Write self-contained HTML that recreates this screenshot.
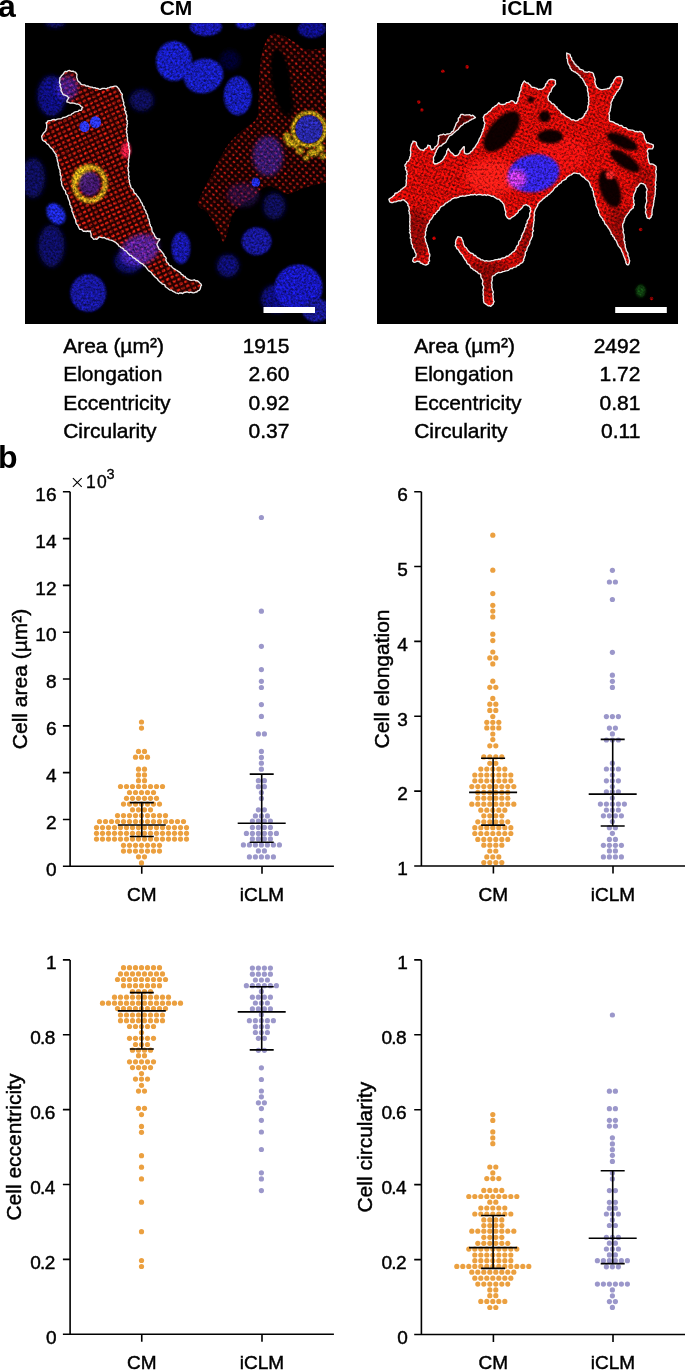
<!DOCTYPE html>
<html><head><meta charset="utf-8"><style>
html,body{margin:0;padding:0;background:#fff;width:685px;height:1370px;overflow:hidden}
svg{position:absolute;left:0;top:0}
.gt{will-change:transform}
text{font-family:"Liberation Sans",sans-serif}
</style></head><body>
<svg class="gt" width="685" height="1370" viewBox="0 0 685 1370">
<defs>
<filter id="grain" x="0" y="0" width="100%" height="100%" color-interpolation-filters="sRGB">
<feTurbulence type="fractalNoise" baseFrequency="0.45" numOctaves="2" seed="7" result="n"/>
<feColorMatrix in="n" type="matrix" values="1 0 0 0 0  1 0 0 0 0  1 0 0 0 0  0 0 0 0 1" result="g"/>
<feComposite in="SourceGraphic" in2="g" operator="arithmetic" k1="1.6" k2="0.2" k3="0" k4="0"/>
</filter>
<filter id="b05" x="-10%" y="-10%" width="120%" height="120%"><feGaussianBlur stdDeviation="0.5"/></filter>
<filter id="b1" x="-20%" y="-20%" width="140%" height="140%"><feGaussianBlur stdDeviation="0.9"/></filter>
<filter id="b2" x="-30%" y="-30%" width="160%" height="160%"><feGaussianBlur stdDeviation="2"/></filter>
<filter id="b3" x="-50%" y="-50%" width="200%" height="200%"><feGaussianBlur stdDeviation="4"/></filter>
<pattern id="redtex1" width="5.2" height="4.8" patternUnits="userSpaceOnUse" patternTransform="rotate(-25)">
<rect width="5.2" height="4.8" fill="#2a0404"/><ellipse cx="2.6" cy="2.4" rx="1.9" ry="1.3" fill="#cc1e0e"/></pattern>
<pattern id="redtex1b" width="5.2" height="4.8" patternUnits="userSpaceOnUse" patternTransform="rotate(40)">
<rect width="5.2" height="4.8" fill="#140202"/><ellipse cx="2.6" cy="2.4" rx="1.5" ry="1.0" fill="#b81a10"/></pattern>
<pattern id="redtex2" width="4.2" height="4.2" patternUnits="userSpaceOnUse" patternTransform="rotate(20)">
<rect width="4.2" height="4.2" fill="#d80c08"/><ellipse cx="2.1" cy="2.1" rx="1.3" ry="0.9" fill="#7a0604"/></pattern>
</defs>
<clipPath id="c1"><rect x="25" y="23" width="301" height="301"/></clipPath>
<clipPath id="c2"><rect x="377" y="23" width="301" height="301"/></clipPath>
<g clip-path="url(#c1)"><g filter="url(#grain)"><rect x="25" y="23" width="301" height="301" fill="#000"/><ellipse cx="51.5" cy="95.8" rx="14.0" ry="20.0" fill="#10107a" filter="url(#b2)"/><ellipse cx="141.8" cy="100.2" rx="12.0" ry="11.0" fill="#0a0a55" filter="url(#b2)"/><ellipse cx="33.0" cy="178.0" rx="12.0" ry="20.0" fill="#0a0a58" filter="url(#b2)"/><ellipse cx="51.5" cy="246.0" rx="13.0" ry="21.0" fill="#0c0c60" filter="url(#b2)"/><ellipse cx="128.6" cy="261.2" rx="14.0" ry="12.0" fill="#0c0c66" filter="url(#b2)"/><ellipse cx="227.9" cy="265.6" rx="11.0" ry="11.0" fill="#0e0e70" filter="url(#b2)"/><ellipse cx="274.2" cy="206.0" rx="11.0" ry="13.0" fill="#0a0a55" filter="url(#b2)"/><ellipse cx="276.4" cy="298.7" rx="15.0" ry="14.0" fill="#10107a" filter="url(#b2)"/><ellipse cx="55.0" cy="23.0" rx="10.0" ry="5.0" fill="#0a0a55" filter="url(#b2)"/><ellipse cx="230.0" cy="60.0" rx="10.0" ry="10.0" fill="#06062e" filter="url(#b2)"/><path d="M268.1,37.2 C271.3,32.8 275.1,33.6 279.5,34.4 C283.9,35.2 290.3,39.4 294.7,42.0 C299.1,44.5 300.9,48.6 306.1,49.6 C311.3,50.5 321.6,48.0 326.0,47.7 C330.4,47.4 331.5,25.2 332.6,47.7 C333.8,70.1 333.8,160.0 332.6,182.4 C331.5,204.9 329.8,181.8 326.0,182.4 C322.2,183.1 314.5,185.0 309.9,186.2 C305.3,187.5 302.3,188.7 298.5,190.0 C294.7,191.3 292.2,194.4 287.1,193.8 C282.0,193.2 273.8,185.6 268.1,186.2 C262.4,186.9 258.6,193.2 252.9,197.6 C247.2,202.0 238.7,205.5 234.0,212.8 C229.2,220.1 227.0,238.1 224.5,241.3 C221.9,244.4 221.6,236.5 218.8,231.8 C215.9,227.0 210.9,217.2 207.4,212.8 C203.9,208.4 198.8,208.4 197.9,205.2 C196.9,202.0 198.8,200.1 201.7,193.8 C204.5,187.5 210.6,175.5 215.0,167.2 C219.4,159.0 223.5,150.8 228.3,144.5 C233.0,138.1 238.7,133.7 243.4,129.3 C248.2,124.9 254.2,123.0 256.7,117.9 C259.3,112.8 258.0,108.4 258.6,98.9 C259.3,89.4 258.9,71.2 260.5,61.0 C262.1,50.7 265.0,41.7 268.1,37.2 Z" fill="url(#redtex1b)" filter="url(#b05)"/><ellipse cx="281.0" cy="80.0" rx="9.5" ry="31.0" fill="#020000" transform="rotate(-8 281.0 80.0)" filter="url(#b1)"/><ellipse cx="287.0" cy="105.0" rx="7.0" ry="12.0" fill="#030000" filter="url(#b2)"/><ellipse cx="268.0" cy="156.0" rx="15.0" ry="20.0" fill="rgba(70,40,190,0.55)" filter="url(#b2)"/><ellipse cx="243.0" cy="195.0" rx="16.0" ry="12.0" fill="rgba(70,30,150,0.35)" filter="url(#b2)"/><ellipse cx="291.0" cy="143.0" rx="5.0" ry="3.5" fill="rgba(232,205,30,0.75)" filter="url(#b1)"/><ellipse cx="300.0" cy="151.0" rx="4.0" ry="3.0" fill="rgba(232,205,30,0.75)" filter="url(#b1)"/><ellipse cx="313.0" cy="153.0" rx="6.0" ry="3.5" fill="rgba(232,205,30,0.75)" filter="url(#b1)"/><ellipse cx="320.0" cy="148.0" rx="4.0" ry="4.0" fill="rgba(232,205,30,0.75)" filter="url(#b1)"/><ellipse cx="287.0" cy="137.0" rx="3.5" ry="4.5" fill="rgba(232,205,30,0.75)" filter="url(#b1)"/><ellipse cx="306.0" cy="158.0" rx="3.0" ry="2.5" fill="rgba(232,205,30,0.75)" filter="url(#b1)"/><ellipse cx="296.0" cy="146.0" rx="2.5" ry="2.5" fill="rgba(232,205,30,0.75)" filter="url(#b1)"/><ellipse cx="323.0" cy="156.0" rx="3.0" ry="3.0" fill="rgba(232,205,30,0.75)" filter="url(#b1)"/><ellipse cx="309.0" cy="129.3" rx="16.0" ry="16.5" fill="none" stroke="rgba(235,210,30,0.8)" stroke-width="3.5" filter="url(#b1)"/><ellipse cx="309.0" cy="129.3" rx="13.5" ry="14.0" fill="#2626a0" filter="url(#b05)"/><ellipse cx="255.8" cy="182.4" rx="4.0" ry="4.2" fill="#2030f0" filter="url(#b05)"/><ellipse cx="174.0" cy="61.0" rx="18.0" ry="20.0" fill="#191fb8" filter="url(#b1)"/><ellipse cx="205.9" cy="27.0" rx="16.0" ry="9.0" fill="#1519a8" filter="url(#b1)"/><ellipse cx="203.7" cy="76.0" rx="20.0" ry="17.0" fill="#171cb5" transform="rotate(-20 203.7 76.0)" filter="url(#b1)"/><ellipse cx="237.8" cy="95.8" rx="14.0" ry="19.5" fill="#171cb2" filter="url(#b1)"/><ellipse cx="245.5" cy="24.0" rx="10.0" ry="5.0" fill="#1519a8" filter="url(#b1)"/><ellipse cx="311.7" cy="29.0" rx="14.0" ry="9.0" fill="#0f0f81" filter="url(#b1)"/><ellipse cx="55.9" cy="213.8" rx="8.5" ry="11.5" fill="#1a28d0" transform="rotate(-35 55.9 213.8)" filter="url(#b1)"/><ellipse cx="88.2" cy="293.0" rx="18.0" ry="19.0" fill="#121297" filter="url(#b1)"/><ellipse cx="181.0" cy="248.0" rx="9.5" ry="16.0" fill="#1517a1" filter="url(#b1)"/><ellipse cx="256.6" cy="241.3" rx="15.0" ry="14.0" fill="#121293" filter="url(#b1)"/><ellipse cx="298.5" cy="287.6" rx="24.0" ry="23.0" fill="#1519b5" filter="url(#b1)"/><ellipse cx="316.0" cy="310.0" rx="14.0" ry="12.0" fill="#12128d" filter="url(#b1)"/><ellipse cx="255.5" cy="181.8" rx="3.5" ry="3.5" fill="#1a28d0" filter="url(#b1)"/><path d="M60.2,77.9 C61.3,75.7 64.2,72.3 66.7,71.3 C69.3,70.4 73.7,70.8 75.5,72.2 C77.4,73.7 76.6,78.1 77.7,80.1 C78.8,82.2 79.9,83.4 82.1,84.5 C84.3,85.6 87.6,86.0 90.9,86.7 C94.2,87.4 98.2,88.9 101.9,88.9 C105.6,88.9 110.3,87.1 112.9,86.7 C115.4,86.4 115.8,85.6 117.3,86.7 C118.7,87.8 120.6,90.4 121.7,93.3 C122.8,96.2 123.0,99.9 123.9,104.3 C124.7,108.7 126.4,114.2 126.9,119.7 C127.5,125.2 126.5,132.1 126.9,137.3 C127.4,142.4 129.4,145.3 129.6,150.4 C129.8,155.6 128.1,162.2 128.3,168.0 C128.4,173.9 128.6,180.3 130.5,185.6 C132.4,190.8 137.0,195.0 139.6,199.5 C142.3,204.0 144.4,208.3 146.2,212.7 C148.1,217.1 149.2,221.9 150.7,225.9 C152.1,230.0 153.6,234.8 155.1,237.0 C156.5,239.2 159.1,237.7 159.5,239.2 C159.8,240.6 156.5,243.2 157.3,245.8 C158.0,248.4 162.0,251.6 163.9,254.6 C165.7,257.5 166.2,260.8 168.3,263.4 C170.3,265.9 172.9,267.4 176.2,270.0 C179.5,272.5 184.6,276.9 188.0,278.7 C191.5,280.6 194.6,279.8 196.8,280.9 C199.0,282.0 201.4,283.5 201.4,285.3 C201.4,287.2 199.1,290.8 196.8,291.9 C194.5,293.1 191.1,292.3 187.6,292.4 C184.1,292.5 180.0,294.1 175.7,292.6 C171.4,291.0 165.5,286.2 161.7,283.1 C157.9,280.1 155.8,277.3 152.9,274.4 C149.9,271.4 147.0,268.1 144.1,265.6 C141.2,263.0 138.6,261.5 135.3,259.0 C132.0,256.4 128.0,253.1 124.3,250.2 C120.6,247.3 117.2,243.6 113.3,241.4 C109.4,239.2 104.0,237.4 101.0,237.0 C98.1,236.6 97.2,239.2 95.5,239.2 C93.9,239.2 92.0,238.3 91.1,237.0 C90.2,235.7 91.1,232.2 90.0,231.3 C88.9,230.3 86.6,232.2 84.5,231.3 C82.5,230.4 80.1,230.0 77.9,226.0 C75.7,222.1 73.0,212.8 71.1,207.6 C69.3,202.3 68.2,198.0 66.7,194.4 C65.3,190.7 63.6,190.0 62.4,185.6 C61.1,181.2 60.4,173.1 59.3,168.0 C58.2,162.9 57.4,158.5 55.8,154.8 C54.1,151.2 51.4,148.6 49.2,146.0 C47.0,143.5 43.8,141.3 42.6,139.4 C41.3,137.6 41.1,136.5 41.7,135.1 C42.3,133.6 45.2,132.9 46.1,130.7 C47.0,128.5 45.4,123.7 47.0,121.9 C48.6,120.0 52.8,120.4 55.8,119.7 C58.7,118.9 61.6,118.6 64.5,117.5 C67.5,116.4 70.4,114.5 73.3,113.1 C76.3,111.6 81.4,110.2 82.1,108.7 C82.9,107.2 80.3,105.4 77.7,104.3 C75.2,103.2 68.2,103.2 66.7,102.1 C65.3,101.0 69.7,99.2 68.9,97.7 C68.2,96.2 63.8,95.5 62.4,93.3 C60.9,91.1 60.5,87.1 60.2,84.5 C59.8,82.0 59.1,80.1 60.2,77.9 Z" fill="url(#redtex1)" filter="url(#b05)"/><ellipse cx="67.0" cy="88.0" rx="11.0" ry="12.0" fill="rgba(70,40,200,0.6)" filter="url(#b2)"/><ellipse cx="89.7" cy="183.7" rx="15.5" ry="17.0" fill="none" stroke="rgba(228,195,30,0.8)" stroke-width="5" filter="url(#b1)"/><ellipse cx="84.0" cy="177.0" rx="9.0" ry="9.0" fill="rgba(235,205,25,0.75)" filter="url(#b2)"/><ellipse cx="89.7" cy="183.7" rx="10.5" ry="12.0" fill="rgba(60,20,110,0.95)" filter="url(#b1)"/><ellipse cx="139.6" cy="250.2" rx="20.0" ry="15.0" fill="rgba(90,40,200,0.7)" transform="rotate(-25 139.6 250.2)" filter="url(#b2)"/><ellipse cx="126.0" cy="150.0" rx="5.0" ry="8.0" fill="rgba(255,30,80,0.8)" filter="url(#b1)"/><ellipse cx="95.5" cy="122.2" rx="5.5" ry="6.0" fill="#2a34f0" filter="url(#b05)"/><ellipse cx="84.5" cy="126.6" rx="5.0" ry="5.5" fill="#2a34f0" filter="url(#b05)"/></g><path d="M59.9,77.8 L60.8,76.9 L61.4,75.7 L62.5,74.8 L63.5,73.7 L64.2,72.3 L65.4,71.4 L66.9,71.7 L68.1,70.7 L69.7,70.5 L71.4,71.4 L73.0,71.1 L74.3,71.9 L75.6,72.2 L76.1,73.2 L77.0,74.4 L76.8,76.0 L76.7,77.5 L77.3,78.9 L77.5,80.2 L78.4,81.6 L79.9,82.3 L80.5,83.9 L82.1,84.6 L83.4,84.8 L84.8,84.9 L86.0,86.1 L87.7,86.0 L89.2,86.6 L90.8,87.1 L92.1,87.2 L93.4,87.8 L94.9,87.6 L96.2,88.4 L97.7,88.4 L99.0,89.1 L100.5,89.3 L101.9,88.5 L103.3,88.4 L104.7,88.3 L106.4,88.8 L107.8,87.9 L109.3,87.7 L110.5,87.0 L111.8,86.9 L112.9,86.6 L114.8,86.1 L116.0,86.2 L117.2,86.8 L117.7,87.7 L118.7,88.4 L119.2,89.6 L120.0,90.7 L120.6,92.1 L121.5,93.4 L122.4,94.3 L122.0,95.7 L122.1,97.0 L122.4,98.3 L123.0,99.7 L123.1,101.2 L123.9,102.6 L123.5,104.4 L124.0,105.4 L124.6,106.5 L125.1,107.7 L124.6,109.1 L124.7,110.4 L126.0,111.5 L125.5,113.0 L126.2,114.2 L126.8,115.5 L126.8,116.9 L126.5,118.3 L126.5,119.7 L127.5,120.9 L127.0,122.3 L127.6,123.7 L126.8,125.1 L127.2,126.5 L126.6,127.9 L126.4,129.3 L126.9,130.7 L126.3,132.1 L127.0,133.5 L127.3,134.8 L126.8,136.0 L127.5,137.2 L127.5,138.7 L127.5,140.1 L127.6,141.4 L128.4,142.5 L128.8,143.7 L128.3,145.2 L129.2,146.2 L128.8,147.7 L129.0,149.0 L129.7,150.4 L129.6,151.6 L129.5,152.9 L129.3,154.2 L129.2,155.5 L129.1,156.9 L128.9,158.2 L128.4,159.6 L128.7,161.0 L128.6,162.5 L128.2,163.8 L128.6,165.3 L128.5,166.7 L127.7,168.0 L128.3,169.4 L128.3,170.8 L128.9,172.1 L128.5,173.5 L128.4,174.9 L129.2,176.3 L128.7,177.7 L128.8,179.1 L129.6,180.4 L129.3,181.8 L129.7,183.1 L129.9,184.4 L130.6,185.5 L130.8,187.0 L131.4,188.2 L132.8,189.1 L133.5,190.2 L133.8,191.8 L134.4,193.1 L135.9,193.8 L136.6,195.0 L137.3,196.2 L138.3,197.1 L139.1,198.3 L139.8,199.4 L140.5,200.6 L140.9,202.0 L141.9,203.0 L142.4,204.3 L142.7,205.7 L144.0,206.5 L144.0,208.0 L144.4,209.2 L145.4,210.2 L146.0,211.4 L145.9,212.8 L147.0,213.9 L147.6,215.3 L147.8,216.7 L148.0,218.2 L149.0,219.3 L149.2,220.7 L149.6,222.1 L149.5,223.5 L150.3,224.7 L150.3,226.1 L151.5,227.2 L151.8,228.6 L152.0,230.1 L152.2,231.6 L153.2,232.8 L153.9,233.9 L154.5,235.0 L154.6,236.1 L155.3,236.7 L156.6,238.5 L158.4,238.8 L159.8,239.0 L159.5,240.2 L158.3,241.2 L157.7,242.7 L156.9,244.2 L157.4,245.8 L158.0,246.6 L158.5,247.7 L158.9,249.1 L160.3,249.9 L161.3,251.1 L162.2,252.3 L163.1,253.4 L163.9,254.5 L164.2,256.1 L165.5,257.0 L166.2,258.3 L165.8,259.9 L166.4,261.2 L167.0,262.5 L168.3,263.3 L168.8,264.7 L169.8,265.7 L171.4,266.0 L172.1,267.3 L173.3,268.3 L174.7,269.1 L176.1,270.0 L177.2,270.5 L178.2,271.4 L179.4,272.1 L180.6,272.9 L181.4,274.3 L182.8,274.9 L183.6,276.2 L185.2,276.4 L185.8,277.9 L186.9,278.4 L187.8,279.2 L189.6,279.9 L191.2,280.3 L192.9,280.2 L194.4,279.8 L195.6,280.8 L197.0,280.6 L198.6,281.6 L199.8,283.0 L201.0,284.0 L201.5,285.3 L200.8,286.2 L200.6,287.5 L200.1,289.0 L199.2,290.3 L197.7,290.9 L196.8,292.0 L195.7,292.0 L194.6,292.7 L193.3,292.9 L192.0,292.5 L190.6,292.1 L189.1,292.7 L187.6,292.0 L186.3,292.0 L185.1,292.3 L183.9,292.5 L182.7,293.5 L181.3,293.0 L179.9,292.8 L178.5,293.7 L177.1,293.2 L175.6,292.8 L174.7,292.1 L173.6,291.7 L172.5,291.1 L171.5,290.1 L169.9,290.1 L168.8,289.2 L167.7,288.3 L166.5,287.5 L165.4,286.7 L164.9,285.1 L163.8,284.3 L162.3,284.2 L161.7,283.1 L160.3,282.3 L159.2,281.3 L158.2,280.3 L157.5,279.1 L156.6,278.2 L155.5,277.4 L154.5,276.5 L153.7,275.5 L152.6,274.6 L151.9,273.3 L151.1,272.2 L149.8,271.4 L148.6,270.6 L147.7,269.6 L146.9,268.4 L146.1,267.3 L145.3,266.2 L144.0,265.7 L143.2,264.4 L142.0,263.7 L140.8,263.1 L139.7,262.4 L138.7,261.5 L137.8,260.5 L136.4,260.0 L135.4,258.8 L134.3,258.2 L133.1,257.6 L132.2,256.5 L131.2,255.4 L129.6,255.1 L128.8,253.9 L127.6,253.0 L126.8,251.7 L125.7,250.7 L124.2,250.3 L123.5,248.9 L122.3,248.1 L120.9,247.6 L120.0,246.5 L118.6,245.8 L118.0,244.3 L116.8,243.6 L115.9,242.5 L114.7,241.8 L113.4,241.2 L112.2,240.5 L110.9,240.1 L109.3,239.9 L108.2,238.9 L106.6,239.0 L105.4,238.4 L104.3,237.4 L103.0,237.9 L101.9,237.6 L101.0,237.4 L99.0,236.8 L98.0,238.3 L96.9,239.3 L95.5,238.8 L93.7,239.3 L92.5,237.8 L91.3,236.9 L91.1,235.6 L91.1,234.0 L90.6,232.4 L90.3,231.0 L89.0,231.5 L87.6,231.0 L86.1,231.5 L84.6,231.1 L83.3,231.3 L82.5,230.2 L81.6,229.4 L79.8,229.3 L78.9,227.8 L78.0,226.0 L77.8,225.0 L76.7,224.3 L76.2,223.2 L75.8,222.0 L75.7,220.6 L75.4,219.2 L74.5,218.0 L74.0,216.6 L73.6,215.2 L73.1,213.9 L72.7,212.5 L71.9,211.3 L71.9,209.9 L72.0,208.5 L71.0,207.6 L70.9,205.9 L69.8,204.6 L69.8,203.0 L69.5,201.6 L69.0,200.3 L68.4,199.1 L68.0,197.8 L67.7,196.6 L67.6,195.3 L66.4,194.5 L65.7,193.2 L65.7,191.7 L65.2,190.5 L64.2,189.7 L63.5,188.6 L63.1,187.2 L62.0,185.7 L61.8,184.6 L61.5,183.4 L61.7,182.0 L61.1,180.7 L60.8,179.3 L61.1,177.8 L61.1,176.3 L60.2,174.9 L60.4,173.3 L59.9,172.0 L60.1,170.5 L59.6,169.2 L59.0,168.1 L58.7,166.6 L58.1,165.1 L58.3,163.6 L57.9,162.2 L57.4,161.0 L57.3,159.6 L56.9,158.4 L57.0,157.0 L55.9,156.1 L56.2,154.6 L55.1,153.5 L54.4,152.2 L53.5,151.1 L52.9,149.8 L52.0,148.7 L50.9,147.9 L50.0,147.0 L49.3,145.9 L48.5,144.7 L47.0,144.0 L46.2,142.8 L45.3,141.6 L44.0,141.1 L43.0,140.5 L42.3,139.6 L41.9,137.7 L41.6,136.4 L42.2,135.3 L42.8,134.3 L43.6,132.9 L44.9,131.8 L45.9,130.5 L46.0,129.3 L46.6,127.8 L46.7,126.1 L46.7,124.5 L46.1,122.9 L47.3,122.1 L47.9,120.9 L49.3,120.6 L50.9,120.6 L52.5,119.7 L54.1,119.5 L55.8,120.0 L57.2,119.1 L58.7,118.9 L60.2,118.8 L61.7,118.6 L62.9,117.5 L64.5,117.3 L65.8,116.9 L67.1,116.4 L68.2,115.5 L69.6,115.2 L71.1,114.8 L72.0,113.6 L73.4,113.1 L74.5,112.1 L76.1,111.6 L77.9,111.4 L79.1,110.2 L80.8,110.3 L81.8,109.7 L81.7,108.6 L82.6,107.4 L81.1,106.5 L79.8,105.0 L77.8,104.0 L76.5,104.1 L75.2,103.5 L73.5,103.2 L71.9,102.9 L70.2,103.2 L68.8,102.5 L67.7,102.0 L66.9,102.0 L66.9,100.8 L68.0,99.0 L68.9,97.7 L68.2,97.2 L67.3,96.2 L66.0,95.6 L64.6,95.0 L63.1,94.6 L62.5,93.2 L61.8,92.0 L60.9,90.7 L61.3,89.0 L60.7,87.4 L59.9,86.0 L60.6,84.4 L59.5,83.1 L59.5,81.7 L59.8,80.5 L59.8,79.2 Z" fill="none" stroke="#eeeeee" stroke-width="1.35" stroke-linejoin="round"/><rect x="263.5" y="307" width="51.5" height="6" fill="#fff"/></g>
<g clip-path="url(#c2)"><g filter="url(#grain)"><rect x="377" y="23" width="301" height="301" fill="#000"/><clipPath id="cc2"><path d="M388.7,199.2 C388.7,198.4 389.9,198.4 391.3,197.2 C392.8,196.1 395.4,193.7 397.4,192.2 C399.5,190.6 402.1,189.4 403.6,188.0 C405.1,186.7 406.2,185.5 406.6,184.0 C407.0,182.4 406.0,180.7 406.1,178.8 C406.2,176.9 407.2,174.6 407.1,172.7 C407.1,170.8 405.9,169.1 405.6,167.6 C405.4,166.1 404.9,165.2 405.6,163.6 C406.3,162.1 408.8,160.8 409.7,158.3 C410.5,155.9 410.1,151.9 410.7,149.1 C411.3,146.3 412.4,142.8 413.3,141.6 C414.1,140.5 415.1,141.2 415.8,142.1 C416.6,143.0 416.8,145.8 417.9,147.2 C418.9,148.5 420.8,149.9 422.0,150.3 C423.1,150.6 424.0,150.0 425.0,149.2 C426.1,148.4 427.3,146.1 428.1,145.6 C429.0,145.1 429.6,145.3 430.1,146.0 C430.6,146.8 430.5,149.9 431.1,150.3 C431.8,150.6 433.0,149.6 434.2,148.2 C435.4,146.9 437.4,144.3 438.3,142.1 C439.2,139.9 437.8,136.4 439.4,135.1 C441.0,133.7 445.8,135.1 448.2,134.2 C450.6,133.2 451.9,132.3 453.9,129.3 C455.9,126.3 458.4,118.6 459.9,116.2 C461.4,113.7 460.4,114.6 462.8,114.6 C465.3,114.6 472.8,115.4 474.5,116.2 C476.2,116.9 474.7,117.8 473.0,119.0 C471.3,120.2 466.6,121.7 464.2,123.4 C461.7,125.1 460.6,127.3 458.4,129.2 C456.2,131.1 453.5,132.6 451.1,135.1 C448.7,137.5 446.0,141.6 443.8,143.8 C441.6,146.0 439.7,145.8 438.0,148.2 C436.3,150.7 434.1,155.7 433.6,158.3 C433.1,161.0 433.8,163.6 435.0,164.1 C436.2,164.5 439.2,162.7 440.9,161.3 C442.6,159.9 444.1,157.7 445.3,155.5 C446.5,153.3 447.2,148.7 448.2,148.2 C449.2,147.8 449.6,151.4 451.1,152.6 C452.5,153.8 455.2,156.0 456.9,155.5 C458.6,155.0 460.1,151.0 461.3,149.6 C462.5,148.1 463.6,146.0 464.2,146.7 C464.8,147.4 464.1,153.0 465.0,153.9 C466.0,154.9 467.9,154.3 470.0,152.6 C472.0,150.9 475.4,147.0 477.4,143.8 C479.4,140.7 480.6,136.8 481.8,133.6 C483.0,130.4 484.4,127.7 484.7,124.8 C485.1,121.9 483.0,118.5 483.9,116.2 C484.8,113.8 487.5,112.9 490.0,110.7 C492.5,108.5 496.8,103.9 498.8,103.0 C500.8,102.1 499.8,105.5 502.0,105.2 C504.2,104.8 509.5,101.1 511.9,100.8 C514.3,100.4 514.5,105.9 516.3,103.0 C518.1,100.0 521.2,86.7 522.8,83.2 C524.4,79.7 524.3,81.5 526.1,82.2 C527.9,82.9 531.0,86.5 533.8,87.6 C536.5,88.7 540.0,90.0 542.6,88.8 C545.1,87.5 546.9,81.1 549.1,80.0 C551.3,78.9 555.9,79.3 555.7,82.2 C555.5,85.1 548.0,93.6 548.0,97.6 C548.0,101.6 552.9,103.4 555.7,106.3 C558.4,109.2 561.1,112.7 564.4,115.1 C567.7,117.5 572.1,120.6 575.4,120.6 C578.7,120.6 582.0,117.8 584.2,115.1 C586.4,112.4 588.0,108.5 588.6,104.1 C589.1,99.7 588.9,93.5 587.5,88.8 C586.0,84.1 582.5,79.0 579.8,75.7 C577.0,72.5 573.2,72.4 571.0,69.1 C568.8,65.8 567.0,58.5 566.6,56.0 C566.2,53.4 567.3,52.3 568.8,53.8 C570.3,55.2 572.8,61.8 575.4,64.7 C578.0,67.7 581.3,69.9 584.2,71.3 C587.1,72.8 590.7,70.8 592.9,73.5 C595.1,76.2 594.7,85.1 597.3,87.6 C599.8,90.1 605.3,90.2 608.2,88.8 C611.1,87.3 613.0,81.0 614.8,79.0 C616.6,77.0 617.9,76.8 619.2,76.8 C620.5,76.8 622.5,76.9 622.5,78.9 C622.5,80.9 621.0,84.9 619.2,88.8 C617.4,92.6 613.2,96.8 611.5,101.9 C609.9,107.0 608.8,115.9 609.3,119.4 C609.9,122.9 612.1,121.3 614.8,122.7 C617.6,124.2 622.7,126.8 625.8,128.2 C628.9,129.6 630.8,130.2 633.6,131.0 C636.3,131.8 640.3,131.1 642.3,132.9 C644.4,134.6 644.0,139.5 645.8,141.5 C647.6,143.5 651.9,143.8 652.9,145.0 C653.9,146.1 652.9,147.6 652.0,148.5 C651.1,149.4 648.0,148.0 647.6,150.3 C647.2,152.7 648.0,160.0 649.3,162.6 C650.6,165.2 654.5,163.2 655.5,166.1 C656.5,169.0 655.7,174.9 655.5,180.1 C655.4,185.4 655.0,193.0 654.6,197.6 C654.2,202.3 653.5,204.9 652.9,208.1 C652.3,211.3 652.0,215.3 651.1,216.9 C650.2,218.5 648.5,218.9 647.6,217.7 C646.7,216.5 645.9,214.7 645.8,209.9 C645.6,205.1 647.3,193.2 646.7,188.8 C646.1,184.5 643.9,183.9 642.3,183.6 C640.7,183.3 638.6,184.8 637.1,187.1 C635.6,189.5 634.2,194.4 633.6,197.6 C633.0,200.8 634.7,203.5 633.6,206.4 C632.4,209.3 628.3,211.9 626.6,215.1 C624.8,218.3 623.4,220.9 623.1,225.6 C622.8,230.3 623.8,237.3 624.8,243.2 C625.8,249.0 628.9,257.2 629.2,260.7 C629.5,264.2 627.9,266.0 626.6,264.2 C625.3,262.5 623.9,255.5 621.3,250.2 C618.7,244.9 614.6,239.0 610.8,232.6 C607.0,226.2 601.7,219.2 598.5,211.6 C595.3,204.0 594.1,193.0 591.5,187.1 C588.9,181.3 585.7,179.0 582.8,176.6 C579.9,174.3 577.8,171.9 574.0,173.1 C570.2,174.3 564.6,179.7 560.0,183.6 C555.3,187.5 549.9,192.9 546.2,196.6 C542.4,200.2 539.3,202.7 537.4,205.4 C535.4,208.1 535.4,207.9 534.5,212.8 C533.7,217.7 533.8,228.2 532.3,234.8 C530.9,241.4 527.6,247.5 525.7,252.2 C523.9,257.0 524.3,260.3 521.4,263.2 C518.5,266.1 513.0,267.6 508.3,269.8 C503.5,272.0 495.5,272.4 492.9,276.4 C490.4,280.4 492.7,289.5 492.9,293.9 C493.1,298.2 494.4,300.6 494.0,302.6 C493.7,304.6 492.4,305.9 490.7,305.9 C489.1,305.9 485.5,306.1 484.2,302.6 C482.9,299.1 483.8,289.9 483.1,285.1 C482.3,280.4 481.8,277.1 479.8,274.2 C477.8,271.3 474.3,271.2 471.0,267.6 C467.7,263.9 462.6,255.9 460.1,252.2 C457.5,248.6 456.2,248.1 455.7,245.7 C455.2,243.3 455.9,239.3 456.8,238.1 C457.7,236.8 459.9,236.8 461.1,238.1 C462.4,239.3 462.4,243.0 464.4,245.7 C466.5,248.4 469.5,251.9 473.2,254.4 C476.8,257.0 481.2,260.5 486.3,261.0 C491.4,261.6 499.1,259.6 503.9,257.7 C508.6,255.9 511.9,253.6 514.8,250.1 C517.7,246.6 519.0,242.4 521.4,237.0 C523.8,231.5 527.6,222.2 529.0,217.2 C530.5,212.3 530.9,209.4 530.1,207.4 C529.4,205.4 526.8,204.3 524.6,205.2 C522.5,206.1 519.4,210.6 517.0,212.8 C514.6,215.0 512.2,217.8 510.4,218.3 C508.6,218.9 507.0,217.8 506.1,216.1 C505.2,214.5 505.9,211.0 505.0,208.5 C504.0,205.9 503.3,203.0 500.6,200.8 C497.8,198.6 494.2,196.3 488.5,195.3 C482.9,194.4 473.2,194.4 466.6,195.3 C460.1,196.3 454.2,197.9 449.1,200.8 C444.0,203.7 439.4,209.0 436.0,212.8 C432.5,216.7 430.0,220.9 428.3,223.8 C426.7,226.7 426.7,228.2 426.1,230.4 C425.6,232.6 424.8,234.5 425.0,237.0 C425.2,239.5 426.5,242.8 427.2,245.7 C428.0,248.6 429.2,251.5 429.4,254.4 C429.6,257.4 429.4,261.5 428.3,263.2 C427.2,264.8 424.5,264.7 422.8,264.3 C421.2,264.0 419.9,261.4 418.5,261.0 C417.0,260.7 415.0,262.5 414.1,262.1 C413.2,261.8 412.6,259.9 413.0,258.8 C413.4,257.7 416.3,257.4 416.3,255.5 C416.3,253.7 413.9,250.6 413.0,247.9 C412.1,245.2 411.3,242.4 410.8,239.1 C410.2,235.8 409.9,232.2 409.7,228.2 C409.5,224.2 410.0,219.2 409.7,215.0 C409.4,210.9 408.7,205.8 407.7,203.4 C406.7,200.9 405.3,200.7 403.6,200.3 C401.9,200.0 399.5,201.0 397.4,201.3 C395.4,201.6 392.8,202.6 391.3,202.3 C389.9,201.9 388.7,200.1 388.7,199.2 Z"/></clipPath><path d="M388.7,199.2 C388.7,198.4 389.9,198.4 391.3,197.2 C392.8,196.1 395.4,193.7 397.4,192.2 C399.5,190.6 402.1,189.4 403.6,188.0 C405.1,186.7 406.2,185.5 406.6,184.0 C407.0,182.4 406.0,180.7 406.1,178.8 C406.2,176.9 407.2,174.6 407.1,172.7 C407.1,170.8 405.9,169.1 405.6,167.6 C405.4,166.1 404.9,165.2 405.6,163.6 C406.3,162.1 408.8,160.8 409.7,158.3 C410.5,155.9 410.1,151.9 410.7,149.1 C411.3,146.3 412.4,142.8 413.3,141.6 C414.1,140.5 415.1,141.2 415.8,142.1 C416.6,143.0 416.8,145.8 417.9,147.2 C418.9,148.5 420.8,149.9 422.0,150.3 C423.1,150.6 424.0,150.0 425.0,149.2 C426.1,148.4 427.3,146.1 428.1,145.6 C429.0,145.1 429.6,145.3 430.1,146.0 C430.6,146.8 430.5,149.9 431.1,150.3 C431.8,150.6 433.0,149.6 434.2,148.2 C435.4,146.9 437.4,144.3 438.3,142.1 C439.2,139.9 437.8,136.4 439.4,135.1 C441.0,133.7 445.8,135.1 448.2,134.2 C450.6,133.2 451.9,132.3 453.9,129.3 C455.9,126.3 458.4,118.6 459.9,116.2 C461.4,113.7 460.4,114.6 462.8,114.6 C465.3,114.6 472.8,115.4 474.5,116.2 C476.2,116.9 474.7,117.8 473.0,119.0 C471.3,120.2 466.6,121.7 464.2,123.4 C461.7,125.1 460.6,127.3 458.4,129.2 C456.2,131.1 453.5,132.6 451.1,135.1 C448.7,137.5 446.0,141.6 443.8,143.8 C441.6,146.0 439.7,145.8 438.0,148.2 C436.3,150.7 434.1,155.7 433.6,158.3 C433.1,161.0 433.8,163.6 435.0,164.1 C436.2,164.5 439.2,162.7 440.9,161.3 C442.6,159.9 444.1,157.7 445.3,155.5 C446.5,153.3 447.2,148.7 448.2,148.2 C449.2,147.8 449.6,151.4 451.1,152.6 C452.5,153.8 455.2,156.0 456.9,155.5 C458.6,155.0 460.1,151.0 461.3,149.6 C462.5,148.1 463.6,146.0 464.2,146.7 C464.8,147.4 464.1,153.0 465.0,153.9 C466.0,154.9 467.9,154.3 470.0,152.6 C472.0,150.9 475.4,147.0 477.4,143.8 C479.4,140.7 480.6,136.8 481.8,133.6 C483.0,130.4 484.4,127.7 484.7,124.8 C485.1,121.9 483.0,118.5 483.9,116.2 C484.8,113.8 487.5,112.9 490.0,110.7 C492.5,108.5 496.8,103.9 498.8,103.0 C500.8,102.1 499.8,105.5 502.0,105.2 C504.2,104.8 509.5,101.1 511.9,100.8 C514.3,100.4 514.5,105.9 516.3,103.0 C518.1,100.0 521.2,86.7 522.8,83.2 C524.4,79.7 524.3,81.5 526.1,82.2 C527.9,82.9 531.0,86.5 533.8,87.6 C536.5,88.7 540.0,90.0 542.6,88.8 C545.1,87.5 546.9,81.1 549.1,80.0 C551.3,78.9 555.9,79.3 555.7,82.2 C555.5,85.1 548.0,93.6 548.0,97.6 C548.0,101.6 552.9,103.4 555.7,106.3 C558.4,109.2 561.1,112.7 564.4,115.1 C567.7,117.5 572.1,120.6 575.4,120.6 C578.7,120.6 582.0,117.8 584.2,115.1 C586.4,112.4 588.0,108.5 588.6,104.1 C589.1,99.7 588.9,93.5 587.5,88.8 C586.0,84.1 582.5,79.0 579.8,75.7 C577.0,72.5 573.2,72.4 571.0,69.1 C568.8,65.8 567.0,58.5 566.6,56.0 C566.2,53.4 567.3,52.3 568.8,53.8 C570.3,55.2 572.8,61.8 575.4,64.7 C578.0,67.7 581.3,69.9 584.2,71.3 C587.1,72.8 590.7,70.8 592.9,73.5 C595.1,76.2 594.7,85.1 597.3,87.6 C599.8,90.1 605.3,90.2 608.2,88.8 C611.1,87.3 613.0,81.0 614.8,79.0 C616.6,77.0 617.9,76.8 619.2,76.8 C620.5,76.8 622.5,76.9 622.5,78.9 C622.5,80.9 621.0,84.9 619.2,88.8 C617.4,92.6 613.2,96.8 611.5,101.9 C609.9,107.0 608.8,115.9 609.3,119.4 C609.9,122.9 612.1,121.3 614.8,122.7 C617.6,124.2 622.7,126.8 625.8,128.2 C628.9,129.6 630.8,130.2 633.6,131.0 C636.3,131.8 640.3,131.1 642.3,132.9 C644.4,134.6 644.0,139.5 645.8,141.5 C647.6,143.5 651.9,143.8 652.9,145.0 C653.9,146.1 652.9,147.6 652.0,148.5 C651.1,149.4 648.0,148.0 647.6,150.3 C647.2,152.7 648.0,160.0 649.3,162.6 C650.6,165.2 654.5,163.2 655.5,166.1 C656.5,169.0 655.7,174.9 655.5,180.1 C655.4,185.4 655.0,193.0 654.6,197.6 C654.2,202.3 653.5,204.9 652.9,208.1 C652.3,211.3 652.0,215.3 651.1,216.9 C650.2,218.5 648.5,218.9 647.6,217.7 C646.7,216.5 645.9,214.7 645.8,209.9 C645.6,205.1 647.3,193.2 646.7,188.8 C646.1,184.5 643.9,183.9 642.3,183.6 C640.7,183.3 638.6,184.8 637.1,187.1 C635.6,189.5 634.2,194.4 633.6,197.6 C633.0,200.8 634.7,203.5 633.6,206.4 C632.4,209.3 628.3,211.9 626.6,215.1 C624.8,218.3 623.4,220.9 623.1,225.6 C622.8,230.3 623.8,237.3 624.8,243.2 C625.8,249.0 628.9,257.2 629.2,260.7 C629.5,264.2 627.9,266.0 626.6,264.2 C625.3,262.5 623.9,255.5 621.3,250.2 C618.7,244.9 614.6,239.0 610.8,232.6 C607.0,226.2 601.7,219.2 598.5,211.6 C595.3,204.0 594.1,193.0 591.5,187.1 C588.9,181.3 585.7,179.0 582.8,176.6 C579.9,174.3 577.8,171.9 574.0,173.1 C570.2,174.3 564.6,179.7 560.0,183.6 C555.3,187.5 549.9,192.9 546.2,196.6 C542.4,200.2 539.3,202.7 537.4,205.4 C535.4,208.1 535.4,207.9 534.5,212.8 C533.7,217.7 533.8,228.2 532.3,234.8 C530.9,241.4 527.6,247.5 525.7,252.2 C523.9,257.0 524.3,260.3 521.4,263.2 C518.5,266.1 513.0,267.6 508.3,269.8 C503.5,272.0 495.5,272.4 492.9,276.4 C490.4,280.4 492.7,289.5 492.9,293.9 C493.1,298.2 494.4,300.6 494.0,302.6 C493.7,304.6 492.4,305.9 490.7,305.9 C489.1,305.9 485.5,306.1 484.2,302.6 C482.9,299.1 483.8,289.9 483.1,285.1 C482.3,280.4 481.8,277.1 479.8,274.2 C477.8,271.3 474.3,271.2 471.0,267.6 C467.7,263.9 462.6,255.9 460.1,252.2 C457.5,248.6 456.2,248.1 455.7,245.7 C455.2,243.3 455.9,239.3 456.8,238.1 C457.7,236.8 459.9,236.8 461.1,238.1 C462.4,239.3 462.4,243.0 464.4,245.7 C466.5,248.4 469.5,251.9 473.2,254.4 C476.8,257.0 481.2,260.5 486.3,261.0 C491.4,261.6 499.1,259.6 503.9,257.7 C508.6,255.9 511.9,253.6 514.8,250.1 C517.7,246.6 519.0,242.4 521.4,237.0 C523.8,231.5 527.6,222.2 529.0,217.2 C530.5,212.3 530.9,209.4 530.1,207.4 C529.4,205.4 526.8,204.3 524.6,205.2 C522.5,206.1 519.4,210.6 517.0,212.8 C514.6,215.0 512.2,217.8 510.4,218.3 C508.6,218.9 507.0,217.8 506.1,216.1 C505.2,214.5 505.9,211.0 505.0,208.5 C504.0,205.9 503.3,203.0 500.6,200.8 C497.8,198.6 494.2,196.3 488.5,195.3 C482.9,194.4 473.2,194.4 466.6,195.3 C460.1,196.3 454.2,197.9 449.1,200.8 C444.0,203.7 439.4,209.0 436.0,212.8 C432.5,216.7 430.0,220.9 428.3,223.8 C426.7,226.7 426.7,228.2 426.1,230.4 C425.6,232.6 424.8,234.5 425.0,237.0 C425.2,239.5 426.5,242.8 427.2,245.7 C428.0,248.6 429.2,251.5 429.4,254.4 C429.6,257.4 429.4,261.5 428.3,263.2 C427.2,264.8 424.5,264.7 422.8,264.3 C421.2,264.0 419.9,261.4 418.5,261.0 C417.0,260.7 415.0,262.5 414.1,262.1 C413.2,261.8 412.6,259.9 413.0,258.8 C413.4,257.7 416.3,257.4 416.3,255.5 C416.3,253.7 413.9,250.6 413.0,247.9 C412.1,245.2 411.3,242.4 410.8,239.1 C410.2,235.8 409.9,232.2 409.7,228.2 C409.5,224.2 410.0,219.2 409.7,215.0 C409.4,210.9 408.7,205.8 407.7,203.4 C406.7,200.9 405.3,200.7 403.6,200.3 C401.9,200.0 399.5,201.0 397.4,201.3 C395.4,201.6 392.8,202.6 391.3,202.3 C389.9,201.9 388.7,200.1 388.7,199.2 Z" fill="url(#redtex2)"/><g clip-path="url(#cc2)"><path d="M439.4,135.1 C441.0,133.1 445.8,135.1 448.2,134.2 C450.6,133.2 451.9,132.3 453.9,129.3 C455.9,126.3 458.4,118.6 459.9,116.2 C461.4,113.7 460.4,114.6 462.8,114.6 C465.3,114.6 472.8,115.4 474.5,116.2 C476.2,116.9 474.7,117.8 473.0,119.0 C471.3,120.2 466.6,121.7 464.2,123.4 C461.7,125.1 460.6,127.3 458.4,129.2 C456.2,131.1 453.5,132.6 451.1,135.1 C448.7,137.5 445.9,142.0 443.8,143.8 C441.7,145.7 439.3,147.5 438.5,146.0 C437.8,144.6 437.8,137.0 439.4,135.1 Z" fill="rgba(40,0,0,0.75)" filter="url(#b1)"/><ellipse cx="486.9" cy="277.9" rx="26.4" ry="17.6" fill="rgba(0,0,0,0.35)" filter="url(#b3)"/><ellipse cx="623.1" cy="229.5" rx="13.2" ry="26.4" fill="rgba(0,0,0,0.3)" transform="rotate(-20 623.1 229.5)" filter="url(#b3)"/><ellipse cx="526.4" cy="242.7" rx="11.0" ry="22.0" fill="rgba(0,0,0,0.3)" filter="url(#b3)"/><ellipse cx="416.5" cy="233.9" rx="13.2" ry="26.4" fill="rgba(0,0,0,0.3)" filter="url(#b3)"/><ellipse cx="645.0" cy="190.0" rx="8.8" ry="26.4" fill="rgba(0,0,0,0.25)" filter="url(#b3)"/><ellipse cx="574.7" cy="71.3" rx="13.2" ry="17.6" fill="rgba(0,0,0,0.3)" filter="url(#b3)"/><ellipse cx="492.1" cy="176.8" rx="26.4" ry="17.6" fill="rgba(255,30,25,0.85)" filter="url(#b3)"/><ellipse cx="561.6" cy="154.8" rx="26.4" ry="17.6" fill="rgba(255,25,20,0.5)" filter="url(#b3)"/><ellipse cx="501.8" cy="131.5" rx="24.6" ry="11.9" fill="#070000" transform="rotate(-50 501.8 131.5)" filter="url(#b1)"/><ellipse cx="550.3" cy="136.6" rx="12.7" ry="7.0" fill="#070000" filter="url(#b1)"/><ellipse cx="544.7" cy="116.5" rx="5.7" ry="5.7" fill="#070000" filter="url(#b1)"/><ellipse cx="531.0" cy="99.6" rx="3.1" ry="3.1" fill="#070000" filter="url(#b1)"/><ellipse cx="622.2" cy="141.5" rx="16.7" ry="6.2" fill="#070000" transform="rotate(25 622.2 141.5)" filter="url(#b1)"/><ellipse cx="624.8" cy="160.8" rx="17.6" ry="6.6" fill="#070000" transform="rotate(35 624.8 160.8)" filter="url(#b1)"/><ellipse cx="609.9" cy="188.8" rx="9.7" ry="19.3" fill="#070000" transform="rotate(-20 609.9 188.8)" filter="url(#b1)"/><ellipse cx="610.0" cy="174.8" rx="4.4" ry="4.4" fill="rgba(255,40,40,0.95)" filter="url(#b1)"/></g><ellipse cx="533.7" cy="173.3" rx="25.9" ry="18.9" fill="#3020d8" transform="rotate(-10 533.7 173.3)" filter="url(#b1)"/><ellipse cx="516.7" cy="179.0" rx="9.7" ry="9.7" fill="rgba(230,60,220,0.75)" filter="url(#b2)"/><ellipse cx="640.7" cy="291.0" rx="4.8" ry="6.2" fill="rgba(30,150,30,0.45)" filter="url(#b1)"/><ellipse cx="467.1" cy="66.9" rx="1.8" ry="1.8" fill="#a00000"/><ellipse cx="421.8" cy="110.0" rx="1.8" ry="1.8" fill="#a00000"/><ellipse cx="458.3" cy="179.0" rx="1.8" ry="1.8" fill="#a00000"/><ellipse cx="464.9" cy="194.4" rx="1.8" ry="1.8" fill="#a00000"/><ellipse cx="418.7" cy="102.1" rx="1.8" ry="1.8" fill="#a00000"/><ellipse cx="556.3" cy="113.1" rx="1.8" ry="1.8" fill="#a00000"/><ellipse cx="442.9" cy="71.3" rx="1.8" ry="1.8" fill="#a00000"/><ellipse cx="434.1" cy="238.3" rx="1.8" ry="1.8" fill="#a00000"/><ellipse cx="640.7" cy="229.5" rx="1.8" ry="1.8" fill="#a00000"/><ellipse cx="651.6" cy="298.5" rx="1.8" ry="1.8" fill="#a00000"/></g><path d="M388.9,199.2 L389.6,198.6 L391.5,197.5 L392.5,196.9 L393.3,195.9 L394.5,195.2 L394.9,193.5 L396.3,193.0 L397.7,192.6 L398.8,191.4 L400.3,190.8 L401.1,189.3 L402.5,188.8 L403.4,187.8 L405.0,186.8 L406.1,185.4 L406.1,183.8 L406.4,182.4 L406.1,180.7 L406.6,178.8 L406.6,177.4 L406.3,175.7 L407.4,174.2 L406.7,172.7 L407.0,171.3 L406.1,170.2 L405.4,168.9 L406.0,167.5 L405.0,166.3 L404.9,165.0 L406.1,163.8 L406.5,163.0 L406.9,161.6 L408.5,161.1 L409.0,159.7 L409.9,158.4 L409.7,157.2 L410.6,156.0 L410.5,154.6 L410.8,153.2 L410.8,151.8 L410.3,150.3 L410.6,149.1 L410.7,147.6 L411.1,146.1 L411.4,144.6 L412.1,143.4 L412.9,142.5 L412.9,141.2 L414.5,141.3 L416.0,142.0 L416.5,143.0 L416.4,144.6 L417.2,145.9 L418.0,147.1 L419.1,148.5 L420.5,149.8 L422.0,149.8 L423.7,150.6 L424.7,148.8 L426.3,148.2 L427.5,146.8 L427.8,145.1 L429.2,145.6 L430.3,146.0 L430.4,147.4 L431.2,149.0 L431.3,149.8 L432.3,149.6 L434.6,148.6 L434.8,147.1 L436.1,146.3 L437.2,145.1 L438.1,143.7 L438.1,142.0 L438.4,140.6 L438.6,139.0 L438.9,137.5 L438.3,135.9 L439.6,135.3 L440.5,134.9 L441.9,134.8 L443.5,134.0 L445.2,135.0 L446.8,134.0 L448.1,134.0 L449.6,133.7 L450.9,133.3 L451.6,131.9 L453.2,131.2 L453.9,129.4 L454.3,128.3 L454.8,127.2 L455.3,125.9 L455.8,124.5 L456.4,123.1 L457.6,121.9 L458.5,120.7 L458.2,119.0 L458.6,117.8 L460.0,117.2 L460.0,116.2 L461.0,114.4 L462.8,114.3 L463.8,114.8 L465.1,115.1 L466.6,114.8 L468.1,114.9 L469.8,114.7 L471.2,115.9 L472.7,115.2 L473.7,115.9 L474.2,116.4 L475.4,117.6 L472.9,118.8 L471.9,119.1 L470.9,120.0 L469.5,120.4 L468.3,121.7 L466.7,122.1 L465.5,123.0 L464.0,123.1 L463.2,124.5 L462.1,125.3 L460.8,125.9 L460.0,127.0 L459.0,127.9 L458.4,129.2 L457.4,130.0 L456.3,130.6 L455.4,131.6 L454.4,132.5 L453.3,133.3 L452.4,134.4 L451.2,135.1 L449.8,135.7 L448.8,136.8 L448.2,138.2 L447.3,139.5 L446.6,140.8 L445.9,142.2 L444.8,143.1 L443.6,143.6 L442.3,144.6 L441.4,145.8 L440.0,146.0 L438.8,146.8 L437.8,148.1 L437.2,149.2 L436.4,150.3 L436.1,151.9 L435.1,153.1 L435.0,154.7 L434.3,156.0 L433.6,157.2 L433.4,158.3 L433.7,160.3 L433.2,162.1 L434.1,163.4 L435.0,164.1 L435.8,163.6 L437.1,163.8 L438.3,162.8 L439.8,162.3 L440.9,161.3 L442.1,160.6 L443.0,159.4 L444.0,158.2 L444.4,156.7 L445.4,155.6 L446.1,154.3 L446.7,152.9 L446.7,151.2 L447.6,150.0 L448.1,149.0 L448.2,148.4 L448.4,148.9 L449.0,150.0 L450.1,151.4 L451.1,152.7 L452.6,153.4 L453.7,155.0 L455.3,155.9 L456.9,155.5 L458.0,155.0 L459.0,153.7 L459.9,152.3 L460.2,150.5 L461.5,149.7 L462.5,148.1 L463.5,146.9 L464.2,146.6 L464.3,147.7 L464.2,149.3 L464.3,151.2 L464.4,152.9 L465.4,153.6 L466.3,154.0 L468.0,153.9 L470.1,152.8 L470.6,151.7 L471.9,151.1 L472.8,150.0 L473.3,148.5 L474.7,147.6 L475.5,146.1 L476.2,144.8 L477.1,143.6 L477.9,142.5 L478.4,141.2 L479.0,139.9 L479.4,138.5 L480.4,137.4 L480.8,136.0 L481.5,134.9 L481.9,133.6 L482.1,132.2 L483.3,131.1 L482.8,129.5 L483.7,128.5 L484.0,127.2 L484.4,126.0 L484.3,124.8 L485.1,123.3 L484.3,121.8 L483.6,120.4 L483.9,118.8 L483.2,117.4 L484.0,116.2 L484.4,115.0 L485.4,114.3 L486.7,113.8 L487.7,112.9 L488.7,111.6 L490.2,111.0 L491.0,110.0 L491.8,108.8 L492.7,107.6 L494.1,107.0 L495.2,105.9 L496.5,105.3 L497.5,104.5 L498.1,103.5 L498.8,102.8 L500.1,104.2 L502.2,104.7 L502.8,104.5 L504.2,104.4 L505.5,103.8 L506.7,102.6 L508.4,102.4 L509.8,102.0 L510.8,100.9 L511.9,100.7 L513.9,101.6 L515.0,103.4 L516.6,103.4 L516.5,102.3 L517.5,101.6 L517.9,100.5 L518.0,99.2 L518.0,97.7 L519.2,96.5 L519.2,94.8 L519.5,93.3 L519.9,91.7 L521.0,90.4 L520.9,88.7 L521.1,87.3 L521.7,86.1 L521.7,84.8 L522.6,84.0 L522.7,83.2 L524.3,80.9 L525.9,82.5 L526.8,83.0 L528.3,83.0 L529.0,84.3 L530.3,85.0 L531.1,86.6 L532.4,87.3 L533.9,87.3 L535.3,87.9 L536.8,88.3 L538.1,89.6 L539.8,89.1 L541.2,89.3 L542.6,88.8 L543.6,88.2 L544.5,87.1 L545.4,85.9 L545.6,84.1 L547.0,83.1 L547.4,81.5 L548.3,80.7 L549.0,79.8 L550.6,79.3 L552.4,79.5 L554.1,79.8 L555.4,80.6 L555.4,82.2 L555.4,82.9 L555.6,84.1 L554.8,85.1 L553.9,86.2 L552.7,87.2 L551.9,88.6 L551.3,90.2 L551.0,91.8 L549.4,92.8 L549.1,94.3 L548.4,95.5 L547.9,96.6 L547.9,97.6 L548.3,99.0 L548.5,100.5 L549.8,101.3 L550.9,102.3 L551.8,103.6 L553.5,104.0 L554.7,105.1 L555.4,106.6 L556.9,107.0 L557.2,108.6 L558.3,109.5 L559.4,110.3 L560.5,111.3 L561.1,112.6 L562.0,113.7 L563.6,114.0 L564.4,115.1 L565.5,116.0 L566.7,116.7 L568.1,117.4 L569.5,118.0 L570.5,119.1 L571.7,120.0 L573.2,119.7 L574.3,120.2 L575.4,120.9 L576.9,120.7 L578.3,120.1 L579.3,118.8 L581.0,118.6 L582.4,117.8 L583.6,116.6 L584.4,115.2 L584.5,113.9 L585.9,113.3 L585.9,111.9 L586.9,110.9 L587.7,109.8 L587.9,108.4 L587.7,106.9 L588.1,105.5 L589.0,104.2 L588.3,102.8 L588.9,101.6 L588.8,100.2 L588.5,98.8 L589.0,97.3 L588.2,95.9 L588.2,94.4 L588.3,92.9 L587.7,91.6 L587.4,90.2 L587.6,88.8 L587.3,87.4 L586.9,86.0 L585.5,85.1 L585.2,83.6 L584.3,82.4 L583.8,81.0 L582.9,79.9 L582.5,78.5 L581.2,77.8 L580.2,77.0 L580.0,75.6 L578.5,74.9 L577.7,73.7 L576.4,73.1 L575.4,72.0 L574.1,71.8 L573.0,71.0 L571.7,70.4 L571.1,69.1 L570.1,68.2 L570.0,66.6 L569.2,65.3 L568.2,63.9 L567.8,62.4 L567.5,60.8 L567.6,59.2 L566.7,58.1 L567.0,56.8 L566.8,56.0 L566.7,53.0 L568.7,53.9 L569.7,54.2 L570.3,55.2 L570.5,56.7 L571.6,57.8 L571.7,59.6 L572.9,60.9 L573.9,62.2 L574.3,63.8 L575.8,64.4 L576.2,66.0 L577.8,66.4 L578.8,67.4 L579.4,69.0 L580.7,69.5 L582.1,69.8 L583.3,70.4 L584.0,71.8 L585.7,72.0 L587.2,72.3 L588.8,71.6 L590.3,72.2 L591.8,72.4 L593.1,73.3 L593.6,74.3 L593.7,75.6 L594.4,76.8 L594.7,78.3 L595.2,79.8 L594.7,81.5 L595.2,83.0 L595.4,84.5 L596.2,85.6 L596.3,87.0 L597.3,87.6 L598.3,88.5 L599.6,89.1 L601.0,89.7 L602.6,89.6 L604.1,89.3 L605.6,89.1 L606.9,88.9 L608.0,88.3 L609.4,88.5 L610.0,87.2 L611.1,86.2 L611.1,84.5 L612.2,83.4 L613.3,82.3 L613.7,80.9 L614.1,79.8 L614.8,79.0 L616.2,77.2 L617.8,76.6 L619.2,76.4 L620.7,76.7 L622.0,77.4 L622.1,79.0 L622.8,79.8 L622.5,80.8 L622.2,82.0 L621.9,83.3 L621.3,84.6 L620.8,86.0 L619.9,87.3 L619.7,89.0 L618.3,89.6 L618.1,91.0 L616.9,91.7 L616.3,93.0 L615.5,94.2 L614.9,95.5 L613.7,96.4 L613.7,98.1 L612.5,99.1 L612.2,100.6 L611.3,101.9 L610.9,103.1 L611.2,104.6 L610.8,106.0 L610.7,107.5 L610.2,109.0 L610.2,110.6 L609.6,112.0 L608.8,113.5 L609.4,114.9 L609.4,116.3 L609.2,117.5 L609.5,118.5 L609.1,119.5 L609.8,121.3 L611.4,121.5 L612.9,121.8 L614.7,122.9 L615.6,123.7 L616.9,124.0 L618.2,124.4 L619.3,125.6 L621.1,125.4 L622.4,126.1 L623.3,127.4 L624.7,127.6 L626.0,127.7 L627.3,128.9 L628.4,129.9 L629.8,129.8 L631.1,130.1 L632.4,130.2 L633.7,130.6 L635.0,131.7 L636.6,131.4 L638.2,132.0 L639.9,131.3 L641.3,131.9 L642.6,132.5 L643.2,133.7 L644.1,134.8 L644.3,136.3 L644.4,137.8 L644.9,139.2 L645.6,140.3 L646.2,141.2 L646.6,142.8 L648.3,142.7 L649.6,143.6 L651.0,143.9 L652.1,144.5 L653.3,144.8 L653.4,146.9 L652.3,148.8 L650.6,148.8 L648.5,148.6 L647.5,150.2 L647.1,151.2 L647.8,152.5 L648.1,153.9 L647.7,155.5 L647.9,157.2 L648.1,158.8 L648.6,160.2 L648.8,161.6 L649.1,162.7 L650.1,164.1 L651.8,163.9 L653.3,164.3 L654.4,165.2 L655.8,166.0 L656.2,167.0 L656.1,168.2 L656.4,169.4 L655.7,170.8 L655.6,172.2 L656.1,173.8 L656.2,175.4 L656.1,177.0 L655.9,178.6 L656.0,180.2 L655.5,181.4 L655.3,182.7 L655.7,184.1 L655.8,185.5 L655.0,186.9 L655.7,188.4 L655.4,189.8 L655.3,191.3 L655.1,192.7 L655.3,194.0 L654.9,195.3 L654.9,196.5 L654.3,197.6 L654.4,199.3 L653.8,200.7 L653.9,202.1 L653.5,203.4 L653.5,204.6 L653.4,205.8 L652.8,206.9 L652.7,208.1 L652.1,209.7 L652.1,211.4 L651.9,213.1 L652.1,214.7 L651.2,215.8 L651.2,217.0 L649.4,218.7 L647.4,218.1 L646.9,217.2 L646.5,216.3 L646.6,215.1 L645.9,213.9 L645.4,212.1 L646.1,209.9 L645.9,209.0 L645.3,207.8 L645.4,206.5 L645.6,205.2 L645.9,203.8 L646.6,202.3 L646.8,200.8 L646.5,199.2 L646.2,197.7 L646.6,196.2 L646.6,194.7 L646.6,193.3 L646.3,192.0 L646.9,190.8 L647.2,189.7 L647.0,188.8 L645.8,186.8 L645.4,185.2 L644.2,184.6 L643.4,183.6 L642.3,183.7 L640.9,183.2 L639.5,184.1 L638.6,185.8 L637.3,187.2 L636.1,187.9 L636.1,189.3 L635.6,190.7 L635.1,192.1 L634.3,193.4 L633.7,194.8 L633.8,196.3 L633.1,197.6 L633.4,199.2 L634.0,200.6 L633.5,202.2 L634.1,203.6 L634.4,205.0 L633.1,206.2 L633.5,207.8 L632.2,208.5 L631.3,209.6 L630.0,210.4 L629.4,211.8 L628.5,213.0 L627.5,214.1 L626.9,215.3 L625.9,216.3 L625.5,217.5 L624.5,218.5 L624.6,219.9 L624.0,221.1 L623.8,222.5 L622.7,223.9 L622.7,225.6 L622.6,226.7 L622.9,227.9 L623.2,229.2 L623.5,230.5 L622.9,231.9 L623.4,233.2 L624.0,234.6 L624.1,236.0 L624.3,237.5 L623.9,239.0 L623.9,240.5 L624.9,241.7 L624.5,243.2 L625.3,244.5 L625.2,246.0 L625.4,247.6 L626.0,249.1 L626.3,250.6 L627.2,252.0 L628.0,253.4 L627.9,255.0 L628.2,256.4 L628.9,257.5 L629.0,258.8 L629.3,259.8 L629.7,260.7 L629.1,263.7 L627.9,265.0 L626.6,264.3 L626.4,263.5 L625.8,262.8 L626.0,261.6 L625.4,260.5 L625.1,259.1 L624.4,257.7 L623.9,256.2 L623.2,254.7 L622.9,253.1 L621.9,251.7 L621.4,250.1 L621.0,249.0 L620.2,248.0 L619.4,247.1 L618.5,246.1 L617.9,244.9 L617.4,243.7 L616.9,242.4 L616.4,241.1 L615.6,239.9 L614.5,239.0 L614.3,237.4 L612.9,236.5 L612.6,235.0 L611.2,234.1 L611.1,232.5 L610.3,231.4 L609.9,230.2 L609.2,229.1 L608.3,228.1 L607.7,226.9 L606.9,225.8 L606.0,224.8 L604.9,223.9 L604.5,222.5 L604.1,221.1 L602.8,220.3 L602.7,218.7 L601.6,217.8 L600.8,216.6 L599.8,215.6 L599.6,214.2 L598.7,213.0 L598.7,211.5 L598.4,210.2 L598.0,209.0 L597.2,207.7 L596.6,206.5 L595.9,205.2 L596.2,203.6 L595.7,202.2 L595.5,200.8 L594.8,199.4 L595.0,197.9 L594.0,196.7 L593.8,195.3 L593.4,194.0 L593.4,192.6 L593.4,191.3 L592.3,190.4 L592.4,189.1 L592.2,188.0 L591.2,187.3 L590.3,185.7 L589.9,184.0 L589.3,182.5 L588.5,181.3 L587.4,180.4 L586.3,179.7 L585.4,178.9 L584.6,178.0 L583.9,177.0 L582.6,176.8 L581.4,175.8 L580.5,174.6 L579.6,173.5 L578.0,173.6 L576.8,173.4 L575.6,173.2 L574.0,173.0 L573.0,173.3 L572.3,174.2 L571.3,174.8 L570.0,175.1 L568.9,175.9 L567.7,176.7 L566.6,177.6 L565.9,179.1 L564.5,179.8 L563.1,180.5 L561.8,181.3 L561.2,182.8 L559.7,183.3 L558.9,184.3 L557.6,185.0 L557.1,186.5 L555.7,187.1 L554.6,188.0 L553.8,189.2 L553.1,190.5 L552.0,191.4 L551.0,192.4 L550.1,193.4 L549.1,194.3 L547.8,194.8 L547.3,196.1 L546.0,196.4 L544.8,197.6 L543.5,198.6 L542.4,199.6 L541.4,200.7 L540.3,201.4 L539.3,202.3 L538.7,203.5 L537.7,204.1 L537.7,205.6 L536.9,206.8 L536.4,207.7 L535.9,208.4 L535.4,209.4 L534.9,210.8 L534.3,212.8 L534.1,213.8 L534.7,215.0 L534.2,216.1 L534.0,217.4 L534.1,218.8 L534.3,220.2 L533.7,221.7 L533.8,223.2 L533.4,224.7 L533.5,226.3 L532.8,227.7 L532.7,229.2 L533.5,230.8 L532.5,232.1 L532.4,233.5 L532.6,234.9 L532.4,236.3 L531.6,237.6 L531.3,239.0 L530.5,240.2 L529.8,241.5 L529.8,243.0 L529.4,244.3 L528.6,245.5 L527.9,246.6 L527.3,247.7 L527.0,249.0 L526.8,250.2 L526.3,251.3 L525.4,252.1 L525.2,253.8 L525.3,255.3 L524.5,256.6 L524.4,257.9 L523.6,258.9 L523.8,260.3 L523.1,261.3 L522.6,262.5 L521.4,263.2 L520.2,263.5 L519.5,264.6 L518.6,265.4 L517.1,265.5 L516.3,266.9 L514.9,267.2 L513.4,267.3 L512.4,268.6 L510.8,268.4 L509.6,269.3 L508.5,270.3 L507.1,270.6 L505.7,270.8 L504.3,271.3 L502.7,271.6 L501.4,272.4 L499.9,272.7 L498.2,272.4 L497.0,273.4 L495.7,274.0 L494.9,275.0 L493.8,275.6 L492.5,276.1 L492.2,277.3 L492.1,278.5 L492.3,279.9 L491.9,281.2 L491.4,282.7 L491.9,284.2 L491.9,285.8 L491.7,287.3 L492.2,288.8 L492.4,290.2 L493.2,291.5 L493.4,292.7 L492.6,293.9 L493.2,295.9 L493.0,297.7 L493.3,299.2 L493.5,300.5 L494.2,301.6 L493.5,302.5 L493.1,304.2 L492.0,305.1 L490.8,306.3 L489.6,305.6 L488.1,305.8 L486.8,304.8 L485.6,303.9 L483.9,302.7 L483.8,301.7 L483.5,300.7 L483.6,299.4 L483.3,298.1 L483.6,296.6 L483.0,295.1 L483.1,293.6 L483.4,292.0 L482.9,290.5 L483.2,289.0 L483.7,287.6 L483.6,286.2 L482.7,285.2 L482.3,283.5 L482.9,281.8 L482.7,280.2 L482.0,278.9 L481.1,277.8 L480.8,276.6 L480.9,275.1 L480.2,273.9 L478.6,273.6 L477.8,272.7 L477.0,271.8 L475.8,271.4 L474.9,270.3 L473.4,269.9 L472.5,268.6 L470.8,267.8 L470.3,266.7 L469.9,265.5 L468.9,264.6 L467.5,263.9 L466.7,262.6 L466.3,261.1 L465.2,260.0 L464.3,258.7 L463.6,257.4 L462.8,256.2 L462.4,254.8 L461.1,254.2 L460.7,253.1 L459.8,252.4 L458.9,250.6 L458.1,249.3 L456.8,248.7 L456.5,247.7 L456.2,246.7 L455.2,245.8 L455.8,244.1 L455.5,242.3 L455.9,240.6 L456.4,239.2 L457.0,238.3 L457.9,236.7 L459.7,237.2 L461.5,237.7 L461.8,238.8 L462.3,239.9 L463.0,241.2 L463.2,242.7 L463.6,244.2 L464.3,245.8 L464.8,246.9 L466.0,247.5 L466.8,248.6 L467.5,249.8 L468.4,251.0 L469.4,252.0 L470.5,253.0 L472.1,253.4 L473.4,254.1 L473.9,255.5 L475.5,255.5 L476.4,256.6 L477.3,257.6 L478.6,258.2 L479.9,258.7 L480.8,259.9 L482.4,259.8 L483.6,260.5 L484.9,261.2 L486.4,260.6 L487.6,261.0 L488.9,261.1 L490.2,261.1 L491.6,260.6 L493.0,260.6 L494.4,260.0 L495.9,259.7 L497.4,259.6 L498.7,259.0 L500.3,259.5 L501.4,258.3 L502.6,257.9 L504.0,258.0 L505.3,257.4 L506.4,256.3 L507.9,256.3 L509.0,255.4 L509.9,254.4 L511.1,253.9 L511.9,252.7 L512.8,251.9 L514.2,251.4 L514.8,250.1 L515.9,249.4 L516.0,247.9 L516.5,246.9 L517.0,245.8 L518.3,245.0 L518.6,243.7 L518.6,242.2 L519.2,241.0 L520.5,240.0 L520.8,238.4 L521.8,237.1 L521.4,235.7 L522.4,234.8 L522.5,233.4 L523.6,232.3 L524.0,231.0 L524.6,229.7 L524.7,228.1 L526.0,227.1 L525.7,225.4 L526.2,224.0 L527.3,223.0 L527.1,221.5 L527.5,220.2 L528.4,219.3 L528.9,218.2 L529.5,217.3 L529.8,215.3 L529.6,213.4 L530.5,211.9 L530.9,210.6 L530.1,209.4 L530.7,208.3 L529.9,207.5 L529.1,206.2 L527.7,205.7 L526.3,204.6 L524.6,205.2 L523.5,205.3 L522.9,206.5 L522.2,207.7 L521.1,208.7 L520.1,209.9 L518.5,210.5 L518.2,212.1 L517.3,213.2 L515.9,214.1 L515.0,215.4 L513.6,216.3 L512.3,217.0 L511.3,217.7 L510.5,218.7 L508.6,218.7 L507.2,217.6 L506.2,216.0 L505.6,215.0 L505.6,213.5 L505.9,211.8 L505.0,210.2 L504.7,208.6 L504.5,207.2 L504.1,205.8 L503.8,204.3 L502.8,203.2 L501.9,201.8 L500.5,200.9 L499.9,199.9 L499.0,199.2 L497.7,199.0 L496.6,198.6 L495.5,197.8 L494.4,197.2 L493.2,196.1 L491.6,196.3 L490.2,195.5 L488.6,195.2 L487.5,194.7 L486.2,195.5 L485.0,194.6 L483.6,195.0 L482.2,195.2 L480.9,194.6 L479.4,194.3 L477.9,194.6 L476.5,195.2 L474.9,194.2 L473.5,194.9 L472.0,194.7 L470.6,194.7 L469.3,195.3 L467.9,195.3 L466.7,195.5 L465.3,196.0 L464.0,196.2 L462.5,195.8 L461.2,196.4 L459.8,196.2 L458.7,197.4 L457.4,197.5 L456.2,198.0 L454.7,197.7 L453.6,198.3 L452.3,198.7 L451.3,199.6 L450.4,200.6 L449.2,200.9 L448.1,201.8 L447.1,202.7 L445.6,203.1 L444.7,204.2 L443.8,205.3 L442.4,206.0 L441.1,206.6 L440.1,207.6 L439.5,209.0 L438.9,210.3 L437.4,210.8 L437.1,212.2 L435.9,212.8 L435.3,214.3 L433.6,214.8 L433.1,216.3 L432.3,217.6 L431.7,218.8 L430.7,219.8 L429.6,220.6 L429.5,222.0 L429.1,223.1 L428.3,223.8 L427.1,225.2 L427.1,226.8 L426.5,227.9 L426.0,229.1 L426.3,230.5 L425.5,231.6 L425.4,232.9 L425.6,234.3 L425.5,235.6 L424.5,237.0 L425.2,238.3 L425.6,239.7 L425.5,241.3 L426.3,242.7 L426.8,244.2 L427.5,245.6 L427.4,247.2 L428.3,248.5 L428.6,250.1 L428.7,251.6 L429.1,253.0 L429.8,254.4 L429.8,256.0 L429.2,257.6 L429.1,259.3 L429.6,260.9 L428.3,262.0 L428.6,263.4 L427.4,264.4 L425.8,265.0 L424.2,264.6 L422.9,264.2 L421.9,263.4 L420.3,263.0 L419.7,261.5 L418.4,261.5 L416.9,261.2 L415.4,262.2 L414.0,262.3 L412.6,260.9 L413.2,258.9 L413.8,257.6 L415.7,257.2 L416.1,255.5 L416.2,254.5 L415.8,253.3 L415.0,252.1 L414.6,250.5 L414.0,249.1 L412.8,248.0 L412.4,246.6 L412.5,245.0 L411.4,243.8 L411.3,242.3 L411.0,240.7 L411.3,239.0 L410.2,237.9 L410.6,236.6 L410.5,235.2 L410.4,233.9 L409.4,232.6 L410.4,231.1 L409.6,229.7 L410.1,228.2 L409.8,227.0 L409.6,225.7 L410.0,224.4 L409.9,223.0 L409.6,221.7 L410.0,220.3 L409.8,218.9 L410.0,217.6 L409.9,216.3 L410.0,215.0 L409.2,213.7 L409.4,212.2 L408.7,210.8 L409.4,209.2 L409.1,207.8 L408.9,206.5 L407.8,205.5 L408.0,204.3 L407.7,203.4 L406.2,201.9 L405.0,201.0 L403.7,199.8 L402.2,199.9 L400.7,200.8 L398.9,200.6 L397.4,201.2 L395.8,201.8 L394.1,201.9 L392.6,202.6 L391.3,202.5 L389.7,201.9 L389.2,200.2 Z" fill="none" stroke="#eeeeee" stroke-width="1.35" stroke-linejoin="round"/><rect x="615.2" y="307" width="51.6" height="6" fill="#fff"/></g>
<g font-family="Liberation Sans" font-weight="bold">
<text x="-2" y="16.5" font-size="32">a</text>
<text x="-2" y="467.8" font-size="32">b</text>
<text x="176" y="15.1" font-size="21" text-anchor="middle">CM</text>
<text x="527" y="15.1" font-size="21" text-anchor="middle">iCLM</text>
</g>
<g font-family="Liberation Sans" font-size="21" stroke="#000" stroke-width="0.45">
<text x="63.2" y="353.1">Area (µm²)</text>
<text x="63.2" y="381.4">Elongation</text>
<text x="63.2" y="409.6">Eccentricity</text>
<text x="63.2" y="437.6">Circularity</text>
<text x="289.4" y="353.1" text-anchor="end">1915</text>
<text x="289.4" y="381.4" text-anchor="end">2.60</text>
<text x="289.4" y="409.6" text-anchor="end">0.92</text>
<text x="289.4" y="437.6" text-anchor="end">0.37</text>
<text x="414.2" y="353.1">Area (µm²)</text>
<text x="414.2" y="381.4">Elongation</text>
<text x="414.2" y="409.6">Eccentricity</text>
<text x="414.2" y="437.6">Circularity</text>
<text x="640.4" y="353.1" text-anchor="end">2492</text>
<text x="640.4" y="381.4" text-anchor="end">1.72</text>
<text x="640.4" y="409.6" text-anchor="end">0.81</text>
<text x="640.4" y="437.6" text-anchor="end">0.11</text>
</g>
<g fill="#eba040"><circle cx="141.5" cy="722.0" r="2.6"/><circle cx="141.5" cy="728.1" r="2.6"/><circle cx="138.5" cy="751.4" r="2.6"/><circle cx="144.5" cy="751.4" r="2.6"/><circle cx="135.5" cy="757.2" r="2.6"/><circle cx="141.5" cy="757.2" r="2.6"/><circle cx="147.5" cy="757.2" r="2.6"/><circle cx="138.5" cy="769.2" r="2.6"/><circle cx="144.5" cy="769.2" r="2.6"/><circle cx="138.5" cy="774.9" r="2.6"/><circle cx="144.5" cy="774.9" r="2.6"/><circle cx="138.5" cy="780.7" r="2.6"/><circle cx="144.5" cy="780.7" r="2.6"/><circle cx="120.5" cy="786.5" r="2.6"/><circle cx="126.5" cy="786.5" r="2.6"/><circle cx="132.5" cy="786.5" r="2.6"/><circle cx="138.5" cy="786.5" r="2.6"/><circle cx="144.5" cy="786.5" r="2.6"/><circle cx="150.5" cy="786.5" r="2.6"/><circle cx="156.5" cy="786.5" r="2.6"/><circle cx="162.5" cy="786.5" r="2.6"/><circle cx="129.5" cy="792.5" r="2.6"/><circle cx="135.5" cy="792.5" r="2.6"/><circle cx="141.5" cy="792.5" r="2.6"/><circle cx="147.5" cy="792.5" r="2.6"/><circle cx="153.5" cy="792.5" r="2.6"/><circle cx="126.5" cy="798.3" r="2.6"/><circle cx="132.5" cy="798.3" r="2.6"/><circle cx="138.5" cy="798.3" r="2.6"/><circle cx="144.5" cy="798.3" r="2.6"/><circle cx="150.5" cy="798.3" r="2.6"/><circle cx="156.5" cy="798.3" r="2.6"/><circle cx="123.5" cy="804.1" r="2.6"/><circle cx="129.5" cy="804.1" r="2.6"/><circle cx="135.5" cy="804.1" r="2.6"/><circle cx="141.5" cy="804.1" r="2.6"/><circle cx="147.5" cy="804.1" r="2.6"/><circle cx="153.5" cy="804.1" r="2.6"/><circle cx="159.5" cy="804.1" r="2.6"/><circle cx="132.5" cy="809.8" r="2.6"/><circle cx="138.5" cy="809.8" r="2.6"/><circle cx="144.5" cy="809.8" r="2.6"/><circle cx="150.5" cy="809.8" r="2.6"/><circle cx="117.5" cy="815.6" r="2.6"/><circle cx="123.5" cy="815.6" r="2.6"/><circle cx="129.5" cy="815.6" r="2.6"/><circle cx="135.5" cy="815.6" r="2.6"/><circle cx="141.5" cy="815.6" r="2.6"/><circle cx="147.5" cy="815.6" r="2.6"/><circle cx="153.5" cy="815.6" r="2.6"/><circle cx="159.5" cy="815.6" r="2.6"/><circle cx="165.5" cy="815.6" r="2.6"/><circle cx="99.5" cy="821.5" r="2.6"/><circle cx="105.5" cy="821.5" r="2.6"/><circle cx="111.5" cy="821.5" r="2.6"/><circle cx="117.5" cy="821.5" r="2.6"/><circle cx="123.5" cy="821.5" r="2.6"/><circle cx="129.5" cy="821.5" r="2.6"/><circle cx="135.5" cy="821.5" r="2.6"/><circle cx="141.5" cy="821.5" r="2.6"/><circle cx="147.5" cy="821.5" r="2.6"/><circle cx="153.5" cy="821.5" r="2.6"/><circle cx="159.5" cy="821.5" r="2.6"/><circle cx="165.5" cy="821.5" r="2.6"/><circle cx="171.5" cy="821.5" r="2.6"/><circle cx="177.5" cy="821.5" r="2.6"/><circle cx="183.5" cy="821.5" r="2.6"/><circle cx="96.5" cy="827.6" r="2.6"/><circle cx="102.5" cy="827.6" r="2.6"/><circle cx="108.5" cy="827.6" r="2.6"/><circle cx="114.5" cy="827.6" r="2.6"/><circle cx="120.5" cy="827.6" r="2.6"/><circle cx="126.5" cy="827.6" r="2.6"/><circle cx="132.5" cy="827.6" r="2.6"/><circle cx="138.5" cy="827.6" r="2.6"/><circle cx="144.5" cy="827.6" r="2.6"/><circle cx="150.5" cy="827.6" r="2.6"/><circle cx="156.5" cy="827.6" r="2.6"/><circle cx="162.5" cy="827.6" r="2.6"/><circle cx="168.5" cy="827.6" r="2.6"/><circle cx="174.5" cy="827.6" r="2.6"/><circle cx="180.5" cy="827.6" r="2.6"/><circle cx="186.5" cy="827.6" r="2.6"/><circle cx="96.5" cy="833.3" r="2.6"/><circle cx="102.5" cy="833.3" r="2.6"/><circle cx="108.5" cy="833.3" r="2.6"/><circle cx="114.5" cy="833.3" r="2.6"/><circle cx="120.5" cy="833.3" r="2.6"/><circle cx="126.5" cy="833.3" r="2.6"/><circle cx="132.5" cy="833.3" r="2.6"/><circle cx="138.5" cy="833.3" r="2.6"/><circle cx="144.5" cy="833.3" r="2.6"/><circle cx="150.5" cy="833.3" r="2.6"/><circle cx="156.5" cy="833.3" r="2.6"/><circle cx="162.5" cy="833.3" r="2.6"/><circle cx="168.5" cy="833.3" r="2.6"/><circle cx="174.5" cy="833.3" r="2.6"/><circle cx="180.5" cy="833.3" r="2.6"/><circle cx="186.5" cy="833.3" r="2.6"/><circle cx="96.5" cy="839.1" r="2.6"/><circle cx="102.5" cy="839.1" r="2.6"/><circle cx="108.5" cy="839.1" r="2.6"/><circle cx="114.5" cy="839.1" r="2.6"/><circle cx="120.5" cy="839.1" r="2.6"/><circle cx="126.5" cy="839.1" r="2.6"/><circle cx="132.5" cy="839.1" r="2.6"/><circle cx="138.5" cy="839.1" r="2.6"/><circle cx="144.5" cy="839.1" r="2.6"/><circle cx="150.5" cy="839.1" r="2.6"/><circle cx="156.5" cy="839.1" r="2.6"/><circle cx="162.5" cy="839.1" r="2.6"/><circle cx="168.5" cy="839.1" r="2.6"/><circle cx="174.5" cy="839.1" r="2.6"/><circle cx="180.5" cy="839.1" r="2.6"/><circle cx="186.5" cy="839.1" r="2.6"/><circle cx="123.5" cy="845.3" r="2.6"/><circle cx="129.5" cy="845.3" r="2.6"/><circle cx="135.5" cy="845.3" r="2.6"/><circle cx="141.5" cy="845.3" r="2.6"/><circle cx="147.5" cy="845.3" r="2.6"/><circle cx="153.5" cy="845.3" r="2.6"/><circle cx="159.5" cy="845.3" r="2.6"/><circle cx="123.5" cy="851.1" r="2.6"/><circle cx="129.5" cy="851.1" r="2.6"/><circle cx="135.5" cy="851.1" r="2.6"/><circle cx="141.5" cy="851.1" r="2.6"/><circle cx="147.5" cy="851.1" r="2.6"/><circle cx="153.5" cy="851.1" r="2.6"/><circle cx="159.5" cy="851.1" r="2.6"/><circle cx="138.5" cy="856.8" r="2.6"/><circle cx="144.5" cy="856.8" r="2.6"/><circle cx="141.5" cy="862.9" r="2.6"/></g><g fill="#9b97ca"><circle cx="261.4" cy="517.5" r="2.6"/><circle cx="261.4" cy="611.2" r="2.6"/><circle cx="261.4" cy="646.3" r="2.6"/><circle cx="261.4" cy="669.6" r="2.6"/><circle cx="261.4" cy="681.3" r="2.6"/><circle cx="261.4" cy="687.5" r="2.6"/><circle cx="261.4" cy="704.6" r="2.6"/><circle cx="261.4" cy="716.4" r="2.6"/><circle cx="258.4" cy="733.9" r="2.6"/><circle cx="264.4" cy="733.9" r="2.6"/><circle cx="261.4" cy="751.4" r="2.6"/><circle cx="261.4" cy="757.4" r="2.6"/><circle cx="261.4" cy="763.2" r="2.6"/><circle cx="261.4" cy="769.2" r="2.6"/><circle cx="258.4" cy="780.7" r="2.6"/><circle cx="264.4" cy="780.7" r="2.6"/><circle cx="258.4" cy="786.7" r="2.6"/><circle cx="264.4" cy="786.7" r="2.6"/><circle cx="261.4" cy="792.6" r="2.6"/><circle cx="261.4" cy="798.4" r="2.6"/><circle cx="258.4" cy="809.8" r="2.6"/><circle cx="264.4" cy="809.8" r="2.6"/><circle cx="255.4" cy="815.9" r="2.6"/><circle cx="261.4" cy="815.9" r="2.6"/><circle cx="267.4" cy="815.9" r="2.6"/><circle cx="252.4" cy="821.0" r="2.6"/><circle cx="258.4" cy="821.0" r="2.6"/><circle cx="264.4" cy="821.0" r="2.6"/><circle cx="270.4" cy="821.0" r="2.6"/><circle cx="252.4" cy="827.4" r="2.6"/><circle cx="258.4" cy="827.4" r="2.6"/><circle cx="264.4" cy="827.4" r="2.6"/><circle cx="270.4" cy="827.4" r="2.6"/><circle cx="246.4" cy="833.4" r="2.6"/><circle cx="252.4" cy="833.4" r="2.6"/><circle cx="258.4" cy="833.4" r="2.6"/><circle cx="264.4" cy="833.4" r="2.6"/><circle cx="270.4" cy="833.4" r="2.6"/><circle cx="276.4" cy="833.4" r="2.6"/><circle cx="252.4" cy="838.9" r="2.6"/><circle cx="258.4" cy="838.9" r="2.6"/><circle cx="264.4" cy="838.9" r="2.6"/><circle cx="270.4" cy="838.9" r="2.6"/><circle cx="243.4" cy="844.9" r="2.6"/><circle cx="249.4" cy="844.9" r="2.6"/><circle cx="255.4" cy="844.9" r="2.6"/><circle cx="261.4" cy="844.9" r="2.6"/><circle cx="267.4" cy="844.9" r="2.6"/><circle cx="273.4" cy="844.9" r="2.6"/><circle cx="279.4" cy="844.9" r="2.6"/><circle cx="258.4" cy="850.9" r="2.6"/><circle cx="264.4" cy="850.9" r="2.6"/><circle cx="249.4" cy="856.9" r="2.6"/><circle cx="255.4" cy="856.9" r="2.6"/><circle cx="261.4" cy="856.9" r="2.6"/><circle cx="267.4" cy="856.9" r="2.6"/><circle cx="273.4" cy="856.9" r="2.6"/></g><g fill="#eba040"><circle cx="492.8" cy="535.2" r="2.6"/><circle cx="492.8" cy="570.2" r="2.6"/><circle cx="492.8" cy="593.6" r="2.6"/><circle cx="492.8" cy="605.3" r="2.6"/><circle cx="492.8" cy="611.1" r="2.6"/><circle cx="492.8" cy="616.9" r="2.6"/><circle cx="492.8" cy="634.2" r="2.6"/><circle cx="492.8" cy="640.6" r="2.6"/><circle cx="492.8" cy="652.0" r="2.6"/><circle cx="489.8" cy="657.9" r="2.6"/><circle cx="495.8" cy="657.9" r="2.6"/><circle cx="492.8" cy="663.9" r="2.6"/><circle cx="492.8" cy="681.2" r="2.6"/><circle cx="489.8" cy="687.3" r="2.6"/><circle cx="495.8" cy="687.3" r="2.6"/><circle cx="492.8" cy="698.4" r="2.6"/><circle cx="489.8" cy="704.2" r="2.6"/><circle cx="495.8" cy="704.2" r="2.6"/><circle cx="489.8" cy="710.4" r="2.6"/><circle cx="495.8" cy="710.4" r="2.6"/><circle cx="492.8" cy="716.5" r="2.6"/><circle cx="486.8" cy="722.3" r="2.6"/><circle cx="492.8" cy="722.3" r="2.6"/><circle cx="498.8" cy="722.3" r="2.6"/><circle cx="486.8" cy="727.9" r="2.6"/><circle cx="492.8" cy="727.9" r="2.6"/><circle cx="498.8" cy="727.9" r="2.6"/><circle cx="492.8" cy="734.0" r="2.6"/><circle cx="492.8" cy="739.6" r="2.6"/><circle cx="489.8" cy="745.8" r="2.6"/><circle cx="495.8" cy="745.8" r="2.6"/><circle cx="483.8" cy="756.9" r="2.6"/><circle cx="489.8" cy="756.9" r="2.6"/><circle cx="495.8" cy="756.9" r="2.6"/><circle cx="501.8" cy="756.9" r="2.6"/><circle cx="489.8" cy="763.3" r="2.6"/><circle cx="495.8" cy="763.3" r="2.6"/><circle cx="480.8" cy="769.1" r="2.6"/><circle cx="486.8" cy="769.1" r="2.6"/><circle cx="492.8" cy="769.1" r="2.6"/><circle cx="498.8" cy="769.1" r="2.6"/><circle cx="504.8" cy="769.1" r="2.6"/><circle cx="474.8" cy="775.0" r="2.6"/><circle cx="480.8" cy="775.0" r="2.6"/><circle cx="486.8" cy="775.0" r="2.6"/><circle cx="492.8" cy="775.0" r="2.6"/><circle cx="498.8" cy="775.0" r="2.6"/><circle cx="504.8" cy="775.0" r="2.6"/><circle cx="510.8" cy="775.0" r="2.6"/><circle cx="474.8" cy="780.8" r="2.6"/><circle cx="480.8" cy="780.8" r="2.6"/><circle cx="486.8" cy="780.8" r="2.6"/><circle cx="492.8" cy="780.8" r="2.6"/><circle cx="498.8" cy="780.8" r="2.6"/><circle cx="504.8" cy="780.8" r="2.6"/><circle cx="510.8" cy="780.8" r="2.6"/><circle cx="471.8" cy="786.6" r="2.6"/><circle cx="477.8" cy="786.6" r="2.6"/><circle cx="483.8" cy="786.6" r="2.6"/><circle cx="489.8" cy="786.6" r="2.6"/><circle cx="495.8" cy="786.6" r="2.6"/><circle cx="501.8" cy="786.6" r="2.6"/><circle cx="507.8" cy="786.6" r="2.6"/><circle cx="513.8" cy="786.6" r="2.6"/><circle cx="477.8" cy="792.4" r="2.6"/><circle cx="483.8" cy="792.4" r="2.6"/><circle cx="489.8" cy="792.4" r="2.6"/><circle cx="495.8" cy="792.4" r="2.6"/><circle cx="501.8" cy="792.4" r="2.6"/><circle cx="507.8" cy="792.4" r="2.6"/><circle cx="477.8" cy="798.2" r="2.6"/><circle cx="483.8" cy="798.2" r="2.6"/><circle cx="489.8" cy="798.2" r="2.6"/><circle cx="495.8" cy="798.2" r="2.6"/><circle cx="501.8" cy="798.2" r="2.6"/><circle cx="507.8" cy="798.2" r="2.6"/><circle cx="471.8" cy="804.2" r="2.6"/><circle cx="477.8" cy="804.2" r="2.6"/><circle cx="483.8" cy="804.2" r="2.6"/><circle cx="489.8" cy="804.2" r="2.6"/><circle cx="495.8" cy="804.2" r="2.6"/><circle cx="501.8" cy="804.2" r="2.6"/><circle cx="507.8" cy="804.2" r="2.6"/><circle cx="513.8" cy="804.2" r="2.6"/><circle cx="480.8" cy="810.2" r="2.6"/><circle cx="486.8" cy="810.2" r="2.6"/><circle cx="492.8" cy="810.2" r="2.6"/><circle cx="498.8" cy="810.2" r="2.6"/><circle cx="504.8" cy="810.2" r="2.6"/><circle cx="483.8" cy="815.8" r="2.6"/><circle cx="489.8" cy="815.8" r="2.6"/><circle cx="495.8" cy="815.8" r="2.6"/><circle cx="501.8" cy="815.8" r="2.6"/><circle cx="477.8" cy="821.8" r="2.6"/><circle cx="483.8" cy="821.8" r="2.6"/><circle cx="489.8" cy="821.8" r="2.6"/><circle cx="495.8" cy="821.8" r="2.6"/><circle cx="501.8" cy="821.8" r="2.6"/><circle cx="507.8" cy="821.8" r="2.6"/><circle cx="474.8" cy="827.7" r="2.6"/><circle cx="480.8" cy="827.7" r="2.6"/><circle cx="486.8" cy="827.7" r="2.6"/><circle cx="492.8" cy="827.7" r="2.6"/><circle cx="498.8" cy="827.7" r="2.6"/><circle cx="504.8" cy="827.7" r="2.6"/><circle cx="510.8" cy="827.7" r="2.6"/><circle cx="474.8" cy="833.5" r="2.6"/><circle cx="480.8" cy="833.5" r="2.6"/><circle cx="486.8" cy="833.5" r="2.6"/><circle cx="492.8" cy="833.5" r="2.6"/><circle cx="498.8" cy="833.5" r="2.6"/><circle cx="504.8" cy="833.5" r="2.6"/><circle cx="510.8" cy="833.5" r="2.6"/><circle cx="477.8" cy="839.4" r="2.6"/><circle cx="483.8" cy="839.4" r="2.6"/><circle cx="489.8" cy="839.4" r="2.6"/><circle cx="495.8" cy="839.4" r="2.6"/><circle cx="501.8" cy="839.4" r="2.6"/><circle cx="507.8" cy="839.4" r="2.6"/><circle cx="483.8" cy="845.2" r="2.6"/><circle cx="489.8" cy="845.2" r="2.6"/><circle cx="495.8" cy="845.2" r="2.6"/><circle cx="501.8" cy="845.2" r="2.6"/><circle cx="489.8" cy="851.0" r="2.6"/><circle cx="495.8" cy="851.0" r="2.6"/><circle cx="486.8" cy="856.9" r="2.6"/><circle cx="492.8" cy="856.9" r="2.6"/><circle cx="498.8" cy="856.9" r="2.6"/><circle cx="483.8" cy="862.5" r="2.6"/><circle cx="489.8" cy="862.5" r="2.6"/><circle cx="495.8" cy="862.5" r="2.6"/><circle cx="501.8" cy="862.5" r="2.6"/></g><g fill="#9b97ca"><circle cx="612.4" cy="570.3" r="2.6"/><circle cx="609.4" cy="582.0" r="2.6"/><circle cx="615.4" cy="582.0" r="2.6"/><circle cx="612.4" cy="599.5" r="2.6"/><circle cx="612.4" cy="652.3" r="2.6"/><circle cx="612.4" cy="675.2" r="2.6"/><circle cx="612.4" cy="681.3" r="2.6"/><circle cx="612.4" cy="687.4" r="2.6"/><circle cx="606.4" cy="716.6" r="2.6"/><circle cx="612.4" cy="716.6" r="2.6"/><circle cx="618.4" cy="716.6" r="2.6"/><circle cx="609.4" cy="728.1" r="2.6"/><circle cx="615.4" cy="728.1" r="2.6"/><circle cx="612.4" cy="733.9" r="2.6"/><circle cx="606.4" cy="740.0" r="2.6"/><circle cx="612.4" cy="740.0" r="2.6"/><circle cx="618.4" cy="740.0" r="2.6"/><circle cx="612.4" cy="763.2" r="2.6"/><circle cx="606.4" cy="769.0" r="2.6"/><circle cx="612.4" cy="769.0" r="2.6"/><circle cx="618.4" cy="769.0" r="2.6"/><circle cx="612.4" cy="775.0" r="2.6"/><circle cx="606.4" cy="780.8" r="2.6"/><circle cx="612.4" cy="780.8" r="2.6"/><circle cx="618.4" cy="780.8" r="2.6"/><circle cx="612.4" cy="786.6" r="2.6"/><circle cx="606.4" cy="791.8" r="2.6"/><circle cx="612.4" cy="791.8" r="2.6"/><circle cx="618.4" cy="791.8" r="2.6"/><circle cx="612.4" cy="798.0" r="2.6"/><circle cx="600.4" cy="804.1" r="2.6"/><circle cx="606.4" cy="804.1" r="2.6"/><circle cx="612.4" cy="804.1" r="2.6"/><circle cx="618.4" cy="804.1" r="2.6"/><circle cx="624.4" cy="804.1" r="2.6"/><circle cx="606.4" cy="810.0" r="2.6"/><circle cx="612.4" cy="810.0" r="2.6"/><circle cx="618.4" cy="810.0" r="2.6"/><circle cx="603.4" cy="815.8" r="2.6"/><circle cx="609.4" cy="815.8" r="2.6"/><circle cx="615.4" cy="815.8" r="2.6"/><circle cx="621.4" cy="815.8" r="2.6"/><circle cx="612.4" cy="821.5" r="2.6"/><circle cx="609.4" cy="827.7" r="2.6"/><circle cx="615.4" cy="827.7" r="2.6"/><circle cx="612.4" cy="833.3" r="2.6"/><circle cx="609.4" cy="839.4" r="2.6"/><circle cx="615.4" cy="839.4" r="2.6"/><circle cx="603.4" cy="845.3" r="2.6"/><circle cx="609.4" cy="845.3" r="2.6"/><circle cx="615.4" cy="845.3" r="2.6"/><circle cx="621.4" cy="845.3" r="2.6"/><circle cx="609.4" cy="850.9" r="2.6"/><circle cx="615.4" cy="850.9" r="2.6"/><circle cx="603.4" cy="856.9" r="2.6"/><circle cx="609.4" cy="856.9" r="2.6"/><circle cx="615.4" cy="856.9" r="2.6"/><circle cx="621.4" cy="856.9" r="2.6"/></g><g fill="#eba040"><circle cx="123.5" cy="967.7" r="2.6"/><circle cx="129.5" cy="967.7" r="2.6"/><circle cx="135.5" cy="967.7" r="2.6"/><circle cx="141.5" cy="967.7" r="2.6"/><circle cx="147.5" cy="967.7" r="2.6"/><circle cx="153.5" cy="967.7" r="2.6"/><circle cx="159.5" cy="967.7" r="2.6"/><circle cx="120.5" cy="973.9" r="2.6"/><circle cx="126.5" cy="973.9" r="2.6"/><circle cx="132.5" cy="973.9" r="2.6"/><circle cx="138.5" cy="973.9" r="2.6"/><circle cx="144.5" cy="973.9" r="2.6"/><circle cx="150.5" cy="973.9" r="2.6"/><circle cx="156.5" cy="973.9" r="2.6"/><circle cx="162.5" cy="973.9" r="2.6"/><circle cx="117.5" cy="979.5" r="2.6"/><circle cx="123.5" cy="979.5" r="2.6"/><circle cx="129.5" cy="979.5" r="2.6"/><circle cx="135.5" cy="979.5" r="2.6"/><circle cx="141.5" cy="979.5" r="2.6"/><circle cx="147.5" cy="979.5" r="2.6"/><circle cx="153.5" cy="979.5" r="2.6"/><circle cx="159.5" cy="979.5" r="2.6"/><circle cx="165.5" cy="979.5" r="2.6"/><circle cx="123.5" cy="985.7" r="2.6"/><circle cx="129.5" cy="985.7" r="2.6"/><circle cx="135.5" cy="985.7" r="2.6"/><circle cx="141.5" cy="985.7" r="2.6"/><circle cx="147.5" cy="985.7" r="2.6"/><circle cx="153.5" cy="985.7" r="2.6"/><circle cx="159.5" cy="985.7" r="2.6"/><circle cx="132.5" cy="991.5" r="2.6"/><circle cx="138.5" cy="991.5" r="2.6"/><circle cx="144.5" cy="991.5" r="2.6"/><circle cx="150.5" cy="991.5" r="2.6"/><circle cx="114.5" cy="997.2" r="2.6"/><circle cx="120.5" cy="997.2" r="2.6"/><circle cx="126.5" cy="997.2" r="2.6"/><circle cx="132.5" cy="997.2" r="2.6"/><circle cx="138.5" cy="997.2" r="2.6"/><circle cx="144.5" cy="997.2" r="2.6"/><circle cx="150.5" cy="997.2" r="2.6"/><circle cx="156.5" cy="997.2" r="2.6"/><circle cx="162.5" cy="997.2" r="2.6"/><circle cx="168.5" cy="997.2" r="2.6"/><circle cx="102.5" cy="1003.2" r="2.6"/><circle cx="108.5" cy="1003.2" r="2.6"/><circle cx="114.5" cy="1003.2" r="2.6"/><circle cx="120.5" cy="1003.2" r="2.6"/><circle cx="126.5" cy="1003.2" r="2.6"/><circle cx="132.5" cy="1003.2" r="2.6"/><circle cx="138.5" cy="1003.2" r="2.6"/><circle cx="144.5" cy="1003.2" r="2.6"/><circle cx="150.5" cy="1003.2" r="2.6"/><circle cx="156.5" cy="1003.2" r="2.6"/><circle cx="162.5" cy="1003.2" r="2.6"/><circle cx="168.5" cy="1003.2" r="2.6"/><circle cx="174.5" cy="1003.2" r="2.6"/><circle cx="180.5" cy="1003.2" r="2.6"/><circle cx="117.5" cy="1008.5" r="2.6"/><circle cx="123.5" cy="1008.5" r="2.6"/><circle cx="129.5" cy="1008.5" r="2.6"/><circle cx="135.5" cy="1008.5" r="2.6"/><circle cx="141.5" cy="1008.5" r="2.6"/><circle cx="147.5" cy="1008.5" r="2.6"/><circle cx="153.5" cy="1008.5" r="2.6"/><circle cx="159.5" cy="1008.5" r="2.6"/><circle cx="165.5" cy="1008.5" r="2.6"/><circle cx="120.5" cy="1015.0" r="2.6"/><circle cx="126.5" cy="1015.0" r="2.6"/><circle cx="132.5" cy="1015.0" r="2.6"/><circle cx="138.5" cy="1015.0" r="2.6"/><circle cx="144.5" cy="1015.0" r="2.6"/><circle cx="150.5" cy="1015.0" r="2.6"/><circle cx="156.5" cy="1015.0" r="2.6"/><circle cx="162.5" cy="1015.0" r="2.6"/><circle cx="120.5" cy="1020.7" r="2.6"/><circle cx="126.5" cy="1020.7" r="2.6"/><circle cx="132.5" cy="1020.7" r="2.6"/><circle cx="138.5" cy="1020.7" r="2.6"/><circle cx="144.5" cy="1020.7" r="2.6"/><circle cx="150.5" cy="1020.7" r="2.6"/><circle cx="156.5" cy="1020.7" r="2.6"/><circle cx="162.5" cy="1020.7" r="2.6"/><circle cx="129.5" cy="1026.5" r="2.6"/><circle cx="135.5" cy="1026.5" r="2.6"/><circle cx="141.5" cy="1026.5" r="2.6"/><circle cx="147.5" cy="1026.5" r="2.6"/><circle cx="153.5" cy="1026.5" r="2.6"/><circle cx="141.5" cy="1032.5" r="2.6"/><circle cx="129.5" cy="1038.3" r="2.6"/><circle cx="135.5" cy="1038.3" r="2.6"/><circle cx="141.5" cy="1038.3" r="2.6"/><circle cx="147.5" cy="1038.3" r="2.6"/><circle cx="153.5" cy="1038.3" r="2.6"/><circle cx="135.5" cy="1044.5" r="2.6"/><circle cx="141.5" cy="1044.5" r="2.6"/><circle cx="147.5" cy="1044.5" r="2.6"/><circle cx="132.5" cy="1050.2" r="2.6"/><circle cx="138.5" cy="1050.2" r="2.6"/><circle cx="144.5" cy="1050.2" r="2.6"/><circle cx="150.5" cy="1050.2" r="2.6"/><circle cx="138.5" cy="1055.7" r="2.6"/><circle cx="144.5" cy="1055.7" r="2.6"/><circle cx="129.5" cy="1061.8" r="2.6"/><circle cx="135.5" cy="1061.8" r="2.6"/><circle cx="141.5" cy="1061.8" r="2.6"/><circle cx="147.5" cy="1061.8" r="2.6"/><circle cx="153.5" cy="1061.8" r="2.6"/><circle cx="132.5" cy="1067.6" r="2.6"/><circle cx="138.5" cy="1067.6" r="2.6"/><circle cx="144.5" cy="1067.6" r="2.6"/><circle cx="150.5" cy="1067.6" r="2.6"/><circle cx="141.5" cy="1073.5" r="2.6"/><circle cx="135.5" cy="1079.1" r="2.6"/><circle cx="141.5" cy="1079.1" r="2.6"/><circle cx="147.5" cy="1079.1" r="2.6"/><circle cx="141.5" cy="1085.3" r="2.6"/><circle cx="138.5" cy="1091.1" r="2.6"/><circle cx="144.5" cy="1091.1" r="2.6"/><circle cx="138.5" cy="1108.3" r="2.6"/><circle cx="144.5" cy="1108.3" r="2.6"/><circle cx="141.5" cy="1114.6" r="2.6"/><circle cx="141.5" cy="1126.4" r="2.6"/><circle cx="141.5" cy="1132.3" r="2.6"/><circle cx="141.5" cy="1155.7" r="2.6"/><circle cx="141.5" cy="1167.2" r="2.6"/><circle cx="141.5" cy="1178.9" r="2.6"/><circle cx="141.5" cy="1202.2" r="2.6"/><circle cx="141.5" cy="1231.7" r="2.6"/><circle cx="141.5" cy="1260.5" r="2.6"/><circle cx="141.5" cy="1266.5" r="2.6"/></g><g fill="#9b97ca"><circle cx="252.4" cy="968.1" r="2.6"/><circle cx="258.4" cy="968.1" r="2.6"/><circle cx="264.4" cy="968.1" r="2.6"/><circle cx="270.4" cy="968.1" r="2.6"/><circle cx="252.4" cy="974.2" r="2.6"/><circle cx="258.4" cy="974.2" r="2.6"/><circle cx="264.4" cy="974.2" r="2.6"/><circle cx="270.4" cy="974.2" r="2.6"/><circle cx="255.4" cy="980.0" r="2.6"/><circle cx="261.4" cy="980.0" r="2.6"/><circle cx="267.4" cy="980.0" r="2.6"/><circle cx="246.4" cy="985.7" r="2.6"/><circle cx="252.4" cy="985.7" r="2.6"/><circle cx="258.4" cy="985.7" r="2.6"/><circle cx="264.4" cy="985.7" r="2.6"/><circle cx="270.4" cy="985.7" r="2.6"/><circle cx="276.4" cy="985.7" r="2.6"/><circle cx="261.4" cy="991.4" r="2.6"/><circle cx="252.4" cy="997.2" r="2.6"/><circle cx="258.4" cy="997.2" r="2.6"/><circle cx="264.4" cy="997.2" r="2.6"/><circle cx="270.4" cy="997.2" r="2.6"/><circle cx="255.4" cy="1003.0" r="2.6"/><circle cx="261.4" cy="1003.0" r="2.6"/><circle cx="267.4" cy="1003.0" r="2.6"/><circle cx="252.4" cy="1008.9" r="2.6"/><circle cx="258.4" cy="1008.9" r="2.6"/><circle cx="264.4" cy="1008.9" r="2.6"/><circle cx="270.4" cy="1008.9" r="2.6"/><circle cx="261.4" cy="1014.7" r="2.6"/><circle cx="249.4" cy="1020.7" r="2.6"/><circle cx="255.4" cy="1020.7" r="2.6"/><circle cx="261.4" cy="1020.7" r="2.6"/><circle cx="267.4" cy="1020.7" r="2.6"/><circle cx="273.4" cy="1020.7" r="2.6"/><circle cx="255.4" cy="1026.7" r="2.6"/><circle cx="261.4" cy="1026.7" r="2.6"/><circle cx="267.4" cy="1026.7" r="2.6"/><circle cx="255.4" cy="1032.5" r="2.6"/><circle cx="261.4" cy="1032.5" r="2.6"/><circle cx="267.4" cy="1032.5" r="2.6"/><circle cx="258.4" cy="1038.3" r="2.6"/><circle cx="264.4" cy="1038.3" r="2.6"/><circle cx="258.4" cy="1050.3" r="2.6"/><circle cx="264.4" cy="1050.3" r="2.6"/><circle cx="261.4" cy="1067.8" r="2.6"/><circle cx="261.4" cy="1079.5" r="2.6"/><circle cx="261.4" cy="1091.0" r="2.6"/><circle cx="261.4" cy="1096.8" r="2.6"/><circle cx="258.4" cy="1102.8" r="2.6"/><circle cx="264.4" cy="1102.8" r="2.6"/><circle cx="261.4" cy="1108.6" r="2.6"/><circle cx="261.4" cy="1120.3" r="2.6"/><circle cx="261.4" cy="1132.0" r="2.6"/><circle cx="261.4" cy="1149.5" r="2.6"/><circle cx="261.4" cy="1172.8" r="2.6"/><circle cx="261.4" cy="1178.9" r="2.6"/><circle cx="261.4" cy="1190.6" r="2.6"/></g><g fill="#eba040"><circle cx="492.8" cy="1114.6" r="2.6"/><circle cx="492.8" cy="1120.4" r="2.6"/><circle cx="492.8" cy="1131.9" r="2.6"/><circle cx="492.8" cy="1137.9" r="2.6"/><circle cx="492.8" cy="1143.7" r="2.6"/><circle cx="489.8" cy="1167.0" r="2.6"/><circle cx="495.8" cy="1167.0" r="2.6"/><circle cx="492.8" cy="1172.9" r="2.6"/><circle cx="486.8" cy="1178.6" r="2.6"/><circle cx="492.8" cy="1178.6" r="2.6"/><circle cx="498.8" cy="1178.6" r="2.6"/><circle cx="483.8" cy="1190.4" r="2.6"/><circle cx="489.8" cy="1190.4" r="2.6"/><circle cx="495.8" cy="1190.4" r="2.6"/><circle cx="501.8" cy="1190.4" r="2.6"/><circle cx="468.8" cy="1196.5" r="2.6"/><circle cx="474.8" cy="1196.5" r="2.6"/><circle cx="480.8" cy="1196.5" r="2.6"/><circle cx="486.8" cy="1196.5" r="2.6"/><circle cx="492.8" cy="1196.5" r="2.6"/><circle cx="498.8" cy="1196.5" r="2.6"/><circle cx="504.8" cy="1196.5" r="2.6"/><circle cx="510.8" cy="1196.5" r="2.6"/><circle cx="516.8" cy="1196.5" r="2.6"/><circle cx="489.8" cy="1202.2" r="2.6"/><circle cx="495.8" cy="1202.2" r="2.6"/><circle cx="480.8" cy="1208.0" r="2.6"/><circle cx="486.8" cy="1208.0" r="2.6"/><circle cx="492.8" cy="1208.0" r="2.6"/><circle cx="498.8" cy="1208.0" r="2.6"/><circle cx="504.8" cy="1208.0" r="2.6"/><circle cx="474.8" cy="1214.0" r="2.6"/><circle cx="480.8" cy="1214.0" r="2.6"/><circle cx="486.8" cy="1214.0" r="2.6"/><circle cx="492.8" cy="1214.0" r="2.6"/><circle cx="498.8" cy="1214.0" r="2.6"/><circle cx="504.8" cy="1214.0" r="2.6"/><circle cx="510.8" cy="1214.0" r="2.6"/><circle cx="483.8" cy="1219.9" r="2.6"/><circle cx="489.8" cy="1219.9" r="2.6"/><circle cx="495.8" cy="1219.9" r="2.6"/><circle cx="501.8" cy="1219.9" r="2.6"/><circle cx="483.8" cy="1225.5" r="2.6"/><circle cx="489.8" cy="1225.5" r="2.6"/><circle cx="495.8" cy="1225.5" r="2.6"/><circle cx="501.8" cy="1225.5" r="2.6"/><circle cx="471.8" cy="1231.2" r="2.6"/><circle cx="477.8" cy="1231.2" r="2.6"/><circle cx="483.8" cy="1231.2" r="2.6"/><circle cx="489.8" cy="1231.2" r="2.6"/><circle cx="495.8" cy="1231.2" r="2.6"/><circle cx="501.8" cy="1231.2" r="2.6"/><circle cx="507.8" cy="1231.2" r="2.6"/><circle cx="513.8" cy="1231.2" r="2.6"/><circle cx="483.8" cy="1237.3" r="2.6"/><circle cx="489.8" cy="1237.3" r="2.6"/><circle cx="495.8" cy="1237.3" r="2.6"/><circle cx="501.8" cy="1237.3" r="2.6"/><circle cx="477.8" cy="1243.3" r="2.6"/><circle cx="483.8" cy="1243.3" r="2.6"/><circle cx="489.8" cy="1243.3" r="2.6"/><circle cx="495.8" cy="1243.3" r="2.6"/><circle cx="501.8" cy="1243.3" r="2.6"/><circle cx="507.8" cy="1243.3" r="2.6"/><circle cx="468.8" cy="1249.1" r="2.6"/><circle cx="474.8" cy="1249.1" r="2.6"/><circle cx="480.8" cy="1249.1" r="2.6"/><circle cx="486.8" cy="1249.1" r="2.6"/><circle cx="492.8" cy="1249.1" r="2.6"/><circle cx="498.8" cy="1249.1" r="2.6"/><circle cx="504.8" cy="1249.1" r="2.6"/><circle cx="510.8" cy="1249.1" r="2.6"/><circle cx="516.8" cy="1249.1" r="2.6"/><circle cx="474.8" cy="1255.0" r="2.6"/><circle cx="480.8" cy="1255.0" r="2.6"/><circle cx="486.8" cy="1255.0" r="2.6"/><circle cx="492.8" cy="1255.0" r="2.6"/><circle cx="498.8" cy="1255.0" r="2.6"/><circle cx="504.8" cy="1255.0" r="2.6"/><circle cx="510.8" cy="1255.0" r="2.6"/><circle cx="474.8" cy="1260.7" r="2.6"/><circle cx="480.8" cy="1260.7" r="2.6"/><circle cx="486.8" cy="1260.7" r="2.6"/><circle cx="492.8" cy="1260.7" r="2.6"/><circle cx="498.8" cy="1260.7" r="2.6"/><circle cx="504.8" cy="1260.7" r="2.6"/><circle cx="510.8" cy="1260.7" r="2.6"/><circle cx="456.8" cy="1266.4" r="2.6"/><circle cx="462.8" cy="1266.4" r="2.6"/><circle cx="468.8" cy="1266.4" r="2.6"/><circle cx="474.8" cy="1266.4" r="2.6"/><circle cx="480.8" cy="1266.4" r="2.6"/><circle cx="486.8" cy="1266.4" r="2.6"/><circle cx="492.8" cy="1266.4" r="2.6"/><circle cx="498.8" cy="1266.4" r="2.6"/><circle cx="504.8" cy="1266.4" r="2.6"/><circle cx="510.8" cy="1266.4" r="2.6"/><circle cx="516.8" cy="1266.4" r="2.6"/><circle cx="522.8" cy="1266.4" r="2.6"/><circle cx="528.8" cy="1266.4" r="2.6"/><circle cx="471.8" cy="1272.2" r="2.6"/><circle cx="477.8" cy="1272.2" r="2.6"/><circle cx="483.8" cy="1272.2" r="2.6"/><circle cx="489.8" cy="1272.2" r="2.6"/><circle cx="495.8" cy="1272.2" r="2.6"/><circle cx="501.8" cy="1272.2" r="2.6"/><circle cx="507.8" cy="1272.2" r="2.6"/><circle cx="513.8" cy="1272.2" r="2.6"/><circle cx="474.8" cy="1278.2" r="2.6"/><circle cx="480.8" cy="1278.2" r="2.6"/><circle cx="486.8" cy="1278.2" r="2.6"/><circle cx="492.8" cy="1278.2" r="2.6"/><circle cx="498.8" cy="1278.2" r="2.6"/><circle cx="504.8" cy="1278.2" r="2.6"/><circle cx="510.8" cy="1278.2" r="2.6"/><circle cx="477.8" cy="1284.1" r="2.6"/><circle cx="483.8" cy="1284.1" r="2.6"/><circle cx="489.8" cy="1284.1" r="2.6"/><circle cx="495.8" cy="1284.1" r="2.6"/><circle cx="501.8" cy="1284.1" r="2.6"/><circle cx="507.8" cy="1284.1" r="2.6"/><circle cx="489.8" cy="1289.9" r="2.6"/><circle cx="495.8" cy="1289.9" r="2.6"/><circle cx="489.8" cy="1295.7" r="2.6"/><circle cx="495.8" cy="1295.7" r="2.6"/><circle cx="480.8" cy="1301.4" r="2.6"/><circle cx="486.8" cy="1301.4" r="2.6"/><circle cx="492.8" cy="1301.4" r="2.6"/><circle cx="498.8" cy="1301.4" r="2.6"/><circle cx="504.8" cy="1301.4" r="2.6"/><circle cx="489.8" cy="1307.5" r="2.6"/><circle cx="495.8" cy="1307.5" r="2.6"/></g><g fill="#9b97ca"><circle cx="612.4" cy="1015.0" r="2.6"/><circle cx="609.4" cy="1091.2" r="2.6"/><circle cx="615.4" cy="1091.2" r="2.6"/><circle cx="609.4" cy="1108.7" r="2.6"/><circle cx="615.4" cy="1108.7" r="2.6"/><circle cx="609.4" cy="1120.3" r="2.6"/><circle cx="615.4" cy="1120.3" r="2.6"/><circle cx="609.4" cy="1126.1" r="2.6"/><circle cx="615.4" cy="1126.1" r="2.6"/><circle cx="612.4" cy="1137.8" r="2.6"/><circle cx="612.4" cy="1143.9" r="2.6"/><circle cx="612.4" cy="1149.7" r="2.6"/><circle cx="612.4" cy="1155.3" r="2.6"/><circle cx="612.4" cy="1161.4" r="2.6"/><circle cx="612.4" cy="1173.1" r="2.6"/><circle cx="612.4" cy="1178.9" r="2.6"/><circle cx="609.4" cy="1190.6" r="2.6"/><circle cx="615.4" cy="1190.6" r="2.6"/><circle cx="609.4" cy="1202.3" r="2.6"/><circle cx="615.4" cy="1202.3" r="2.6"/><circle cx="609.4" cy="1208.2" r="2.6"/><circle cx="615.4" cy="1208.2" r="2.6"/><circle cx="606.4" cy="1214.0" r="2.6"/><circle cx="612.4" cy="1214.0" r="2.6"/><circle cx="618.4" cy="1214.0" r="2.6"/><circle cx="612.4" cy="1219.9" r="2.6"/><circle cx="609.4" cy="1225.5" r="2.6"/><circle cx="615.4" cy="1225.5" r="2.6"/><circle cx="606.4" cy="1237.4" r="2.6"/><circle cx="612.4" cy="1237.4" r="2.6"/><circle cx="618.4" cy="1237.4" r="2.6"/><circle cx="609.4" cy="1243.2" r="2.6"/><circle cx="615.4" cy="1243.2" r="2.6"/><circle cx="606.4" cy="1249.0" r="2.6"/><circle cx="612.4" cy="1249.0" r="2.6"/><circle cx="618.4" cy="1249.0" r="2.6"/><circle cx="609.4" cy="1254.9" r="2.6"/><circle cx="615.4" cy="1254.9" r="2.6"/><circle cx="597.4" cy="1260.7" r="2.6"/><circle cx="603.4" cy="1260.7" r="2.6"/><circle cx="609.4" cy="1260.7" r="2.6"/><circle cx="615.4" cy="1260.7" r="2.6"/><circle cx="621.4" cy="1260.7" r="2.6"/><circle cx="627.4" cy="1260.7" r="2.6"/><circle cx="606.4" cy="1266.8" r="2.6"/><circle cx="612.4" cy="1266.8" r="2.6"/><circle cx="618.4" cy="1266.8" r="2.6"/><circle cx="597.4" cy="1284.1" r="2.6"/><circle cx="603.4" cy="1284.1" r="2.6"/><circle cx="609.4" cy="1284.1" r="2.6"/><circle cx="615.4" cy="1284.1" r="2.6"/><circle cx="621.4" cy="1284.1" r="2.6"/><circle cx="627.4" cy="1284.1" r="2.6"/><circle cx="612.4" cy="1289.9" r="2.6"/><circle cx="612.4" cy="1295.8" r="2.6"/><circle cx="609.4" cy="1301.6" r="2.6"/><circle cx="615.4" cy="1301.6" r="2.6"/><circle cx="612.4" cy="1307.4" r="2.6"/></g><path d="M117.8,825.0H165.8M129.8,802.6H153.8M129.8,836.5H153.8M141.8,802.6V836.5M237.7,823.2H285.7M249.7,774.1H273.7M249.7,842.2H273.7M261.7,774.1V842.2M469.1,792.4H517.1M481.1,758.3H505.1M481.1,825.1H505.1M493.1,758.3V825.1M588.7,794.1H636.7M600.7,739.4H624.7M600.7,826.0H624.7M612.7,739.4V826.0M117.8,1010.9H165.8M129.8,992.6H153.8M129.8,1049.0H153.8M141.8,992.6V1049.0M237.7,1011.9H285.7M249.7,986.8H273.7M249.7,1049.9H273.7M261.7,986.8V1049.9M469.1,1247.6H517.1M481.1,1215.5H505.1M481.1,1268.4H505.1M493.1,1215.5V1268.4M588.7,1238.3H636.7M600.7,1170.7H624.7M600.7,1263.6H624.7M612.7,1170.7V1263.6" stroke="#000" stroke-width="1.6" fill="none"/>
<path d="M70.10,491.80V866.30M62.90,866.30H333.90M62.90,866.30H70.10M62.90,819.49H70.10M62.90,772.67H70.10M62.90,725.86H70.10M62.90,679.05H70.10M62.90,632.24H70.10M62.90,585.42H70.10M62.90,538.61H70.10M62.90,491.80H70.10M141.75,866.30V873.70M262.00,866.30V873.70" stroke="#000" stroke-width="1.6" fill="none" stroke-linecap="butt"/><path d="M421.40,491.70V866.00M414.20,866.00H685.50M414.20,866.00H421.40M414.20,791.14H421.40M414.20,716.28H421.40M414.20,641.42H421.40M414.20,566.56H421.40M414.20,491.70H421.40M493.40,866.00V873.40M613.00,866.00V873.40" stroke="#000" stroke-width="1.6" fill="none" stroke-linecap="butt"/><path d="M70.10,959.90V1334.30M62.90,1334.30H333.90M62.90,1334.30H70.10M62.90,1259.42H70.10M62.90,1184.54H70.10M62.90,1109.66H70.10M62.90,1034.78H70.10M62.90,959.90H70.10M141.75,1334.30V1341.70M262.00,1334.30V1341.70" stroke="#000" stroke-width="1.6" fill="none" stroke-linecap="butt"/><path d="M421.40,959.90V1334.50M414.20,1334.50H685.50M414.20,1334.50H421.40M414.20,1259.58H421.40M414.20,1184.66H421.40M414.20,1109.74H421.40M414.20,1034.82H421.40M414.20,959.90H421.40M493.40,1334.50V1341.90M613.00,1334.50V1341.90" stroke="#000" stroke-width="1.6" fill="none" stroke-linecap="butt"/>
<g font-family="Liberation Sans" font-size="19" stroke="#000" stroke-width="0.45"><text x="56.5" y="875.5" text-anchor="end">0</text><text x="56.5" y="828.7" text-anchor="end">2</text><text x="56.5" y="781.9" text-anchor="end">4</text><text x="56.5" y="735.1" text-anchor="end">6</text><text x="56.5" y="688.2" text-anchor="end">8</text><text x="56.5" y="641.4" text-anchor="end">10</text><text x="56.5" y="594.6" text-anchor="end">12</text><text x="56.5" y="547.8" text-anchor="end">14</text><text x="56.5" y="501.0" text-anchor="end">16</text><text x="141.8" y="900.9" text-anchor="middle">CM</text><text x="262.0" y="900.9" text-anchor="middle">iCLM</text><text x="27.2" y="679.0" transform="rotate(-90 27.2 679.0)" text-anchor="middle" font-size="21" dominant-baseline="alphabetic">Cell area (µm²)</text><text x="407.8" y="875.2" text-anchor="end">1</text><text x="407.8" y="800.3" text-anchor="end">2</text><text x="407.8" y="725.5" text-anchor="end">3</text><text x="407.8" y="650.6" text-anchor="end">4</text><text x="407.8" y="575.8" text-anchor="end">5</text><text x="407.8" y="500.9" text-anchor="end">6</text><text x="493.4" y="900.6" text-anchor="middle">CM</text><text x="613.0" y="900.6" text-anchor="middle">iCLM</text><text x="388.9" y="678.9" transform="rotate(-90 388.9 678.9)" text-anchor="middle" font-size="21" dominant-baseline="alphabetic">Cell elongation</text><text x="56.5" y="1343.5" text-anchor="end">0</text><text x="54.6" y="1268.6" text-anchor="end" letter-spacing="-0.65">0.2</text><text x="54.6" y="1193.7" text-anchor="end" letter-spacing="-0.65">0.4</text><text x="54.6" y="1118.9" text-anchor="end" letter-spacing="-0.65">0.6</text><text x="54.6" y="1044.0" text-anchor="end" letter-spacing="-0.65">0.8</text><text x="56.5" y="969.1" text-anchor="end">1</text><text x="141.8" y="1368.9" text-anchor="middle">CM</text><text x="262.0" y="1368.9" text-anchor="middle">iCLM</text><text x="21.3" y="1147.1" transform="rotate(-90 21.3 1147.1)" text-anchor="middle" font-size="21" dominant-baseline="alphabetic">Cell eccentricity</text><text x="407.8" y="1343.7" text-anchor="end">0</text><text x="405.9" y="1268.8" text-anchor="end" letter-spacing="-0.65">0.2</text><text x="405.9" y="1193.9" text-anchor="end" letter-spacing="-0.65">0.4</text><text x="405.9" y="1118.9" text-anchor="end" letter-spacing="-0.65">0.6</text><text x="405.9" y="1044.0" text-anchor="end" letter-spacing="-0.65">0.8</text><text x="407.8" y="969.1" text-anchor="end">1</text><text x="493.4" y="1369.1" text-anchor="middle">CM</text><text x="613.0" y="1369.1" text-anchor="middle">iCLM</text><text x="372.5" y="1147.2" transform="rotate(-90 372.5 1147.2)" text-anchor="middle" font-size="21" dominant-baseline="alphabetic">Cell circularity</text></g>
<g font-family="Liberation Sans" stroke-width="0.4">
<path d="M72.9,478.2L81.7,486.8M72.9,486.8L81.7,478.2" stroke="#000" stroke-width="1.1" fill="none"/>
<text x="86.0" y="488" font-size="17.5" letter-spacing="1.3" stroke="#000" stroke-width="0.35">10</text>
<text x="106.4" y="478.8" font-size="14.5" stroke="#000" stroke-width="0.3">3</text>
</g>
</svg>
</body></html>
